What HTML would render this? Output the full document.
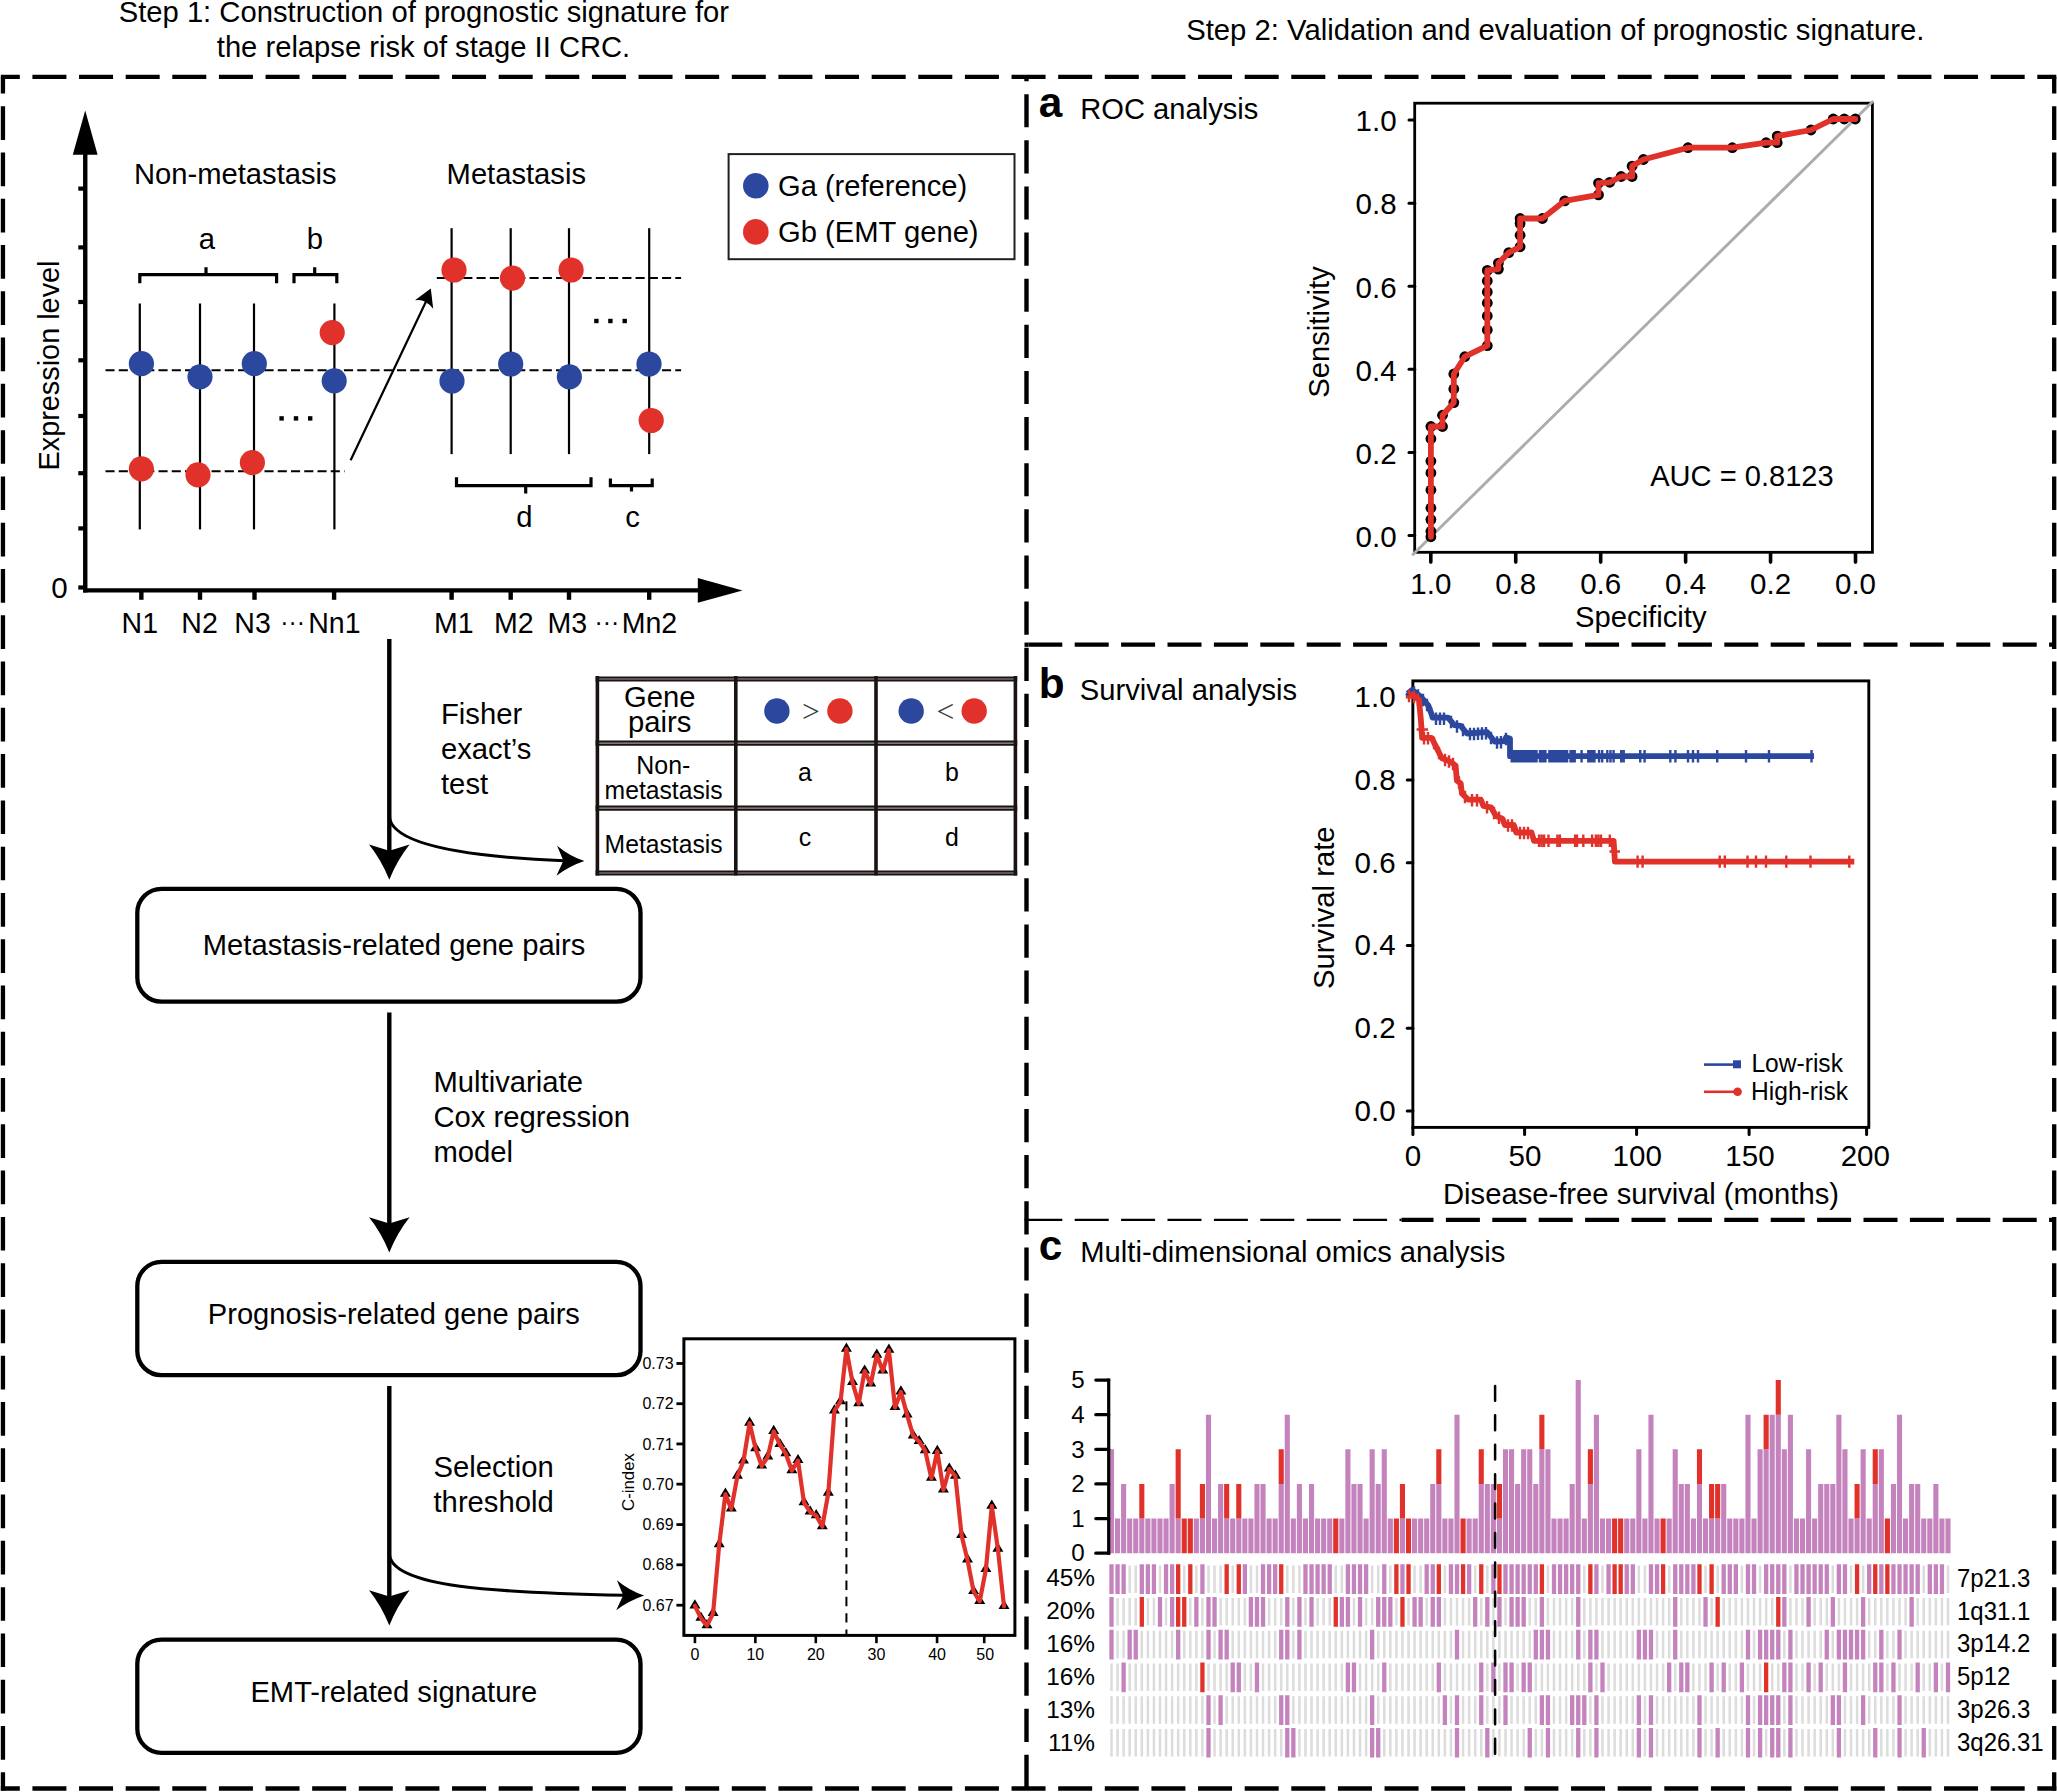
<!DOCTYPE html>
<html lang="en">
<head>
<meta charset="utf-8">
<title>EMT-related prognostic signature workflow</title>
<style>
html,body{margin:0;padding:0;background:#fff;}
svg{display:block;}
text{font-family:"Liberation Sans",Arial,Helvetica,sans-serif;fill:#000;}
</style>
</head>
<body>
<svg width="2057" height="1792" viewBox="0 0 2057 1792">
<rect x="0" y="0" width="2057" height="1792" fill="#fff"/>
<line x1="0.85" y1="76.80" x2="2056.30" y2="76.80" stroke="#000" stroke-width="4.3" stroke-dasharray="34 12.625" stroke-dashoffset="15.049999999999999"/>
<line x1="0.85" y1="1788.50" x2="2056.30" y2="1788.50" stroke="#000" stroke-width="4.3" stroke-dasharray="34 12.625" stroke-dashoffset="15.049999999999999"/>
<line x1="2.95" y1="76.80" x2="2.95" y2="1790.60" stroke="#000" stroke-width="4.3" stroke-dasharray="33.7 12.58" stroke-dashoffset="16.900000000000006"/>
<line x1="2054.20" y1="76.80" x2="2054.20" y2="1790.60" stroke="#000" stroke-width="4.3" stroke-dasharray="33.7 12.58" stroke-dashoffset="16.900000000000006"/>
<line x1="1026.50" y1="76.80" x2="1026.50" y2="1788.50" stroke="#000" stroke-width="4.4" stroke-dasharray="33.2 12.93" stroke-dashoffset="28.8"/>
<line x1="1024.50" y1="644.70" x2="1028.30" y2="644.70" stroke="#000" stroke-width="4.3"/>
<line x1="1028.30" y1="644.70" x2="2054.20" y2="644.70" stroke="#000" stroke-width="4.3" stroke-dasharray="34 12.4" stroke-dashoffset="0"/>
<line x1="1024.50" y1="1219.80" x2="1028.30" y2="1219.80" stroke="#000" stroke-width="2.2"/>
<line x1="1028.30" y1="1219.80" x2="1401.50" y2="1219.80" stroke="#000" stroke-width="2.2" stroke-dasharray="34 12.4" stroke-dashoffset="0"/>
<line x1="1401.50" y1="1219.80" x2="2054.20" y2="1219.80" stroke="#000" stroke-width="4.3" stroke-dasharray="34 12.4" stroke-dashoffset="2.000000000000057"/>
<text x="118.70" y="22.40" font-size="29.72" textLength="610.40" lengthAdjust="spacingAndGlyphs">Step 1: Construction of prognostic signature for</text>
<text x="216.80" y="56.90" font-size="29.72" textLength="413.40" lengthAdjust="spacingAndGlyphs">the relapse risk of stage II CRC.</text>
<text x="1186.20" y="39.80" font-size="29.72" textLength="738.20" lengthAdjust="spacingAndGlyphs">Step 2: Validation and evaluation of prognostic signature.</text>
<line x1="85.25" y1="150.00" x2="85.25" y2="592.60" stroke="#000" stroke-width="4.4"/>
<path d="M85.2,110.4 L72.8,154.7 L97.6,154.7 Z" fill="#000"/>
<line x1="83.10" y1="590.40" x2="700.00" y2="590.40" stroke="#000" stroke-width="4.4"/>
<path d="M742.5,590.4 L697.8,578 L697.8,602.8 Z" fill="#000"/>
<line x1="78.30" y1="188.60" x2="85.25" y2="188.60" stroke="#000" stroke-width="4.2"/>
<line x1="78.30" y1="247.40" x2="85.25" y2="247.40" stroke="#000" stroke-width="4.2"/>
<line x1="78.30" y1="302.00" x2="85.25" y2="302.00" stroke="#000" stroke-width="4.2"/>
<line x1="78.30" y1="360.30" x2="85.25" y2="360.30" stroke="#000" stroke-width="4.2"/>
<line x1="78.30" y1="416.00" x2="85.25" y2="416.00" stroke="#000" stroke-width="4.2"/>
<line x1="78.30" y1="473.20" x2="85.25" y2="473.20" stroke="#000" stroke-width="4.2"/>
<line x1="78.30" y1="528.40" x2="85.25" y2="528.40" stroke="#000" stroke-width="4.2"/>
<line x1="78.30" y1="587.50" x2="85.25" y2="587.50" stroke="#000" stroke-width="4.2"/>
<line x1="141.35" y1="590.40" x2="141.35" y2="599.80" stroke="#000" stroke-width="4.4"/>
<line x1="200.00" y1="590.40" x2="200.00" y2="599.80" stroke="#000" stroke-width="4.4"/>
<line x1="254.50" y1="590.40" x2="254.50" y2="599.80" stroke="#000" stroke-width="4.4"/>
<line x1="334.10" y1="590.40" x2="334.10" y2="599.80" stroke="#000" stroke-width="4.4"/>
<line x1="451.60" y1="590.40" x2="451.60" y2="599.80" stroke="#000" stroke-width="4.4"/>
<line x1="510.70" y1="590.40" x2="510.70" y2="599.80" stroke="#000" stroke-width="4.4"/>
<line x1="569.00" y1="590.40" x2="569.00" y2="599.80" stroke="#000" stroke-width="4.4"/>
<line x1="649.20" y1="590.40" x2="649.20" y2="599.80" stroke="#000" stroke-width="4.4"/>
<line x1="139.80" y1="303.50" x2="139.80" y2="529.40" stroke="#000" stroke-width="2.2"/>
<line x1="200.00" y1="303.50" x2="200.00" y2="529.40" stroke="#000" stroke-width="2.2"/>
<line x1="254.00" y1="303.50" x2="254.00" y2="529.40" stroke="#000" stroke-width="2.2"/>
<line x1="334.40" y1="303.50" x2="334.40" y2="529.40" stroke="#000" stroke-width="2.2"/>
<line x1="451.60" y1="228.20" x2="451.60" y2="454.10" stroke="#000" stroke-width="2.2"/>
<line x1="510.70" y1="228.20" x2="510.70" y2="454.10" stroke="#000" stroke-width="2.2"/>
<line x1="569.00" y1="228.20" x2="569.00" y2="454.10" stroke="#000" stroke-width="2.2"/>
<line x1="649.20" y1="228.20" x2="649.20" y2="454.10" stroke="#000" stroke-width="2.2"/>
<line x1="105.50" y1="370.30" x2="681.10" y2="370.30" stroke="#000" stroke-width="2.0" stroke-dasharray="9.1 4.15"/>
<line x1="105.50" y1="471.20" x2="344.50" y2="471.20" stroke="#000" stroke-width="2.0" stroke-dasharray="9.1 4.15"/>
<line x1="436.80" y1="278.10" x2="681.10" y2="278.10" stroke="#000" stroke-width="2.0" stroke-dasharray="9.1 4.15"/>
<circle cx="141.40" cy="363.70" r="12.6" fill="#2b479e"/>
<circle cx="200.00" cy="376.80" r="12.6" fill="#2b479e"/>
<circle cx="254.30" cy="363.70" r="12.6" fill="#2b479e"/>
<circle cx="334.20" cy="380.80" r="12.6" fill="#2b479e"/>
<circle cx="452.00" cy="381.00" r="12.6" fill="#2b479e"/>
<circle cx="510.70" cy="364.00" r="12.6" fill="#2b479e"/>
<circle cx="569.40" cy="376.80" r="12.6" fill="#2b479e"/>
<circle cx="649.00" cy="364.00" r="12.6" fill="#2b479e"/>
<circle cx="332.20" cy="332.60" r="12.6" fill="#e0312a"/>
<circle cx="141.40" cy="468.80" r="12.6" fill="#e0312a"/>
<circle cx="198.00" cy="474.80" r="12.6" fill="#e0312a"/>
<circle cx="252.40" cy="462.60" r="12.6" fill="#e0312a"/>
<circle cx="454.00" cy="270.00" r="12.6" fill="#e0312a"/>
<circle cx="512.50" cy="278.10" r="12.6" fill="#e0312a"/>
<circle cx="571.10" cy="270.00" r="12.6" fill="#e0312a"/>
<circle cx="651.20" cy="420.50" r="12.6" fill="#e0312a"/>
<path d="M139.8,283.2 V274.7 H276.6 V283.2 M206,274.7 V267.3" fill="none" stroke="#000" stroke-width="3.2"/>
<path d="M294,283.2 V274.7 H336.8 V283.2 M314.7,274.7 V267.3" fill="none" stroke="#000" stroke-width="3.2"/>
<path d="M456.5,477.2 V485.6 H591 V477.2 M525.7,485.6 V493.4" fill="none" stroke="#000" stroke-width="3.2"/>
<path d="M610.4,478.5 V485.6 H652.2 V478.5 M631.5,485.6 V491.5" fill="none" stroke="#000" stroke-width="3.2"/>
<rect x="279.40" y="416.20" width="4.40" height="4.40" fill="#000"/>
<rect x="293.80" y="416.20" width="4.40" height="4.40" fill="#000"/>
<rect x="308.00" y="416.20" width="4.40" height="4.40" fill="#000"/>
<rect x="594.20" y="318.80" width="4.40" height="4.40" fill="#000"/>
<rect x="608.20" y="318.80" width="4.40" height="4.40" fill="#000"/>
<rect x="622.50" y="318.80" width="4.40" height="4.40" fill="#000"/>
<line x1="350.60" y1="460.20" x2="426.50" y2="300.50" stroke="#000" stroke-width="2.2"/>
<path d="M430.8,288.5 L415,300.2 Q421.5,299.3 425.2,301.8 Q429.6,304.3 433.2,308.7 Z" fill="#000"/>
<text x="134.00" y="183.80" font-size="29.72" textLength="202.60" lengthAdjust="spacingAndGlyphs">Non-metastasis</text>
<text x="446.60" y="183.80" font-size="29.72" textLength="139.40" lengthAdjust="spacingAndGlyphs">Metastasis</text>
<text x="207.00" y="248.80" font-size="29.72" text-anchor="middle" textLength="16.26" lengthAdjust="spacingAndGlyphs">a</text>
<text x="315.00" y="248.80" font-size="29.72" text-anchor="middle" textLength="16.26" lengthAdjust="spacingAndGlyphs">b</text>
<text x="524.50" y="527.30" font-size="29.72" text-anchor="middle" textLength="16.26" lengthAdjust="spacingAndGlyphs">d</text>
<text x="632.50" y="527.30" font-size="29.72" text-anchor="middle" textLength="14.62" lengthAdjust="spacingAndGlyphs">c</text>
<text x="58.60" y="365.50" font-size="29.72" text-anchor="middle" textLength="210.00" lengthAdjust="spacingAndGlyphs" transform="rotate(-90 58.60 365.50)">Expression level</text>
<text x="59.50" y="597.70" font-size="29.30" text-anchor="middle" textLength="16.43" lengthAdjust="spacingAndGlyphs">0</text>
<text x="139.80" y="632.60" font-size="29.01" text-anchor="middle" textLength="36.47" lengthAdjust="spacingAndGlyphs">N1</text>
<text x="199.60" y="632.60" font-size="29.01" text-anchor="middle" textLength="36.47" lengthAdjust="spacingAndGlyphs">N2</text>
<text x="252.60" y="632.60" font-size="29.01" text-anchor="middle" textLength="36.47" lengthAdjust="spacingAndGlyphs">N3</text>
<text x="334.40" y="632.60" font-size="29.01" text-anchor="middle" textLength="52.33" lengthAdjust="spacingAndGlyphs">Nn1</text>
<text x="453.90" y="632.60" font-size="29.01" text-anchor="middle" textLength="39.63" lengthAdjust="spacingAndGlyphs">M1</text>
<text x="513.80" y="632.60" font-size="29.01" text-anchor="middle" textLength="39.63" lengthAdjust="spacingAndGlyphs">M2</text>
<text x="567.20" y="632.60" font-size="29.01" text-anchor="middle" textLength="39.63" lengthAdjust="spacingAndGlyphs">M3</text>
<text x="649.50" y="632.60" font-size="29.01" text-anchor="middle" textLength="55.49" lengthAdjust="spacingAndGlyphs">Mn2</text>
<text x="280.30" y="631.40" font-size="25.11" textLength="24.67" lengthAdjust="spacingAndGlyphs">···</text>
<text x="594.50" y="631.40" font-size="25.11" textLength="24.67" lengthAdjust="spacingAndGlyphs">···</text>
<rect x="728.60" y="154.10" width="285.90" height="105.10" fill="none" stroke="#231f20" stroke-width="2"/>
<circle cx="755.80" cy="185.80" r="12.8" fill="#2b479e"/>
<circle cx="755.80" cy="231.90" r="12.8" fill="#e0312a"/>
<text x="778.00" y="195.80" font-size="29.72" textLength="189.20" lengthAdjust="spacingAndGlyphs">Ga (reference)</text>
<text x="778.00" y="242.30" font-size="29.72" textLength="200.60" lengthAdjust="spacingAndGlyphs">Gb (EMT gene)</text>
<line x1="389.30" y1="639.00" x2="389.30" y2="854.80" stroke="#000" stroke-width="4.4"/>
<path d="M389.3,879.8 Q381.3,859.8 369.0,844.5 L389.3,850.8 L409.6,844.5 Q397.3,859.8 389.3,879.8 Z" fill="#000"/>
<path d="M389.3,815.2 C389.3,850.2 499.3,858.1 564.4,860.8000000000001" fill="none" stroke="#000" stroke-width="3.1"/>
<path d="M584.4,861.1 Q569.4,856.1 557.1,845.8000000000001 L563.4,860.8000000000001 L556.4,875.8000000000001 Q569.4,866.1 584.4,861.1 Z" fill="#000"/>
<line x1="389.30" y1="1012.50" x2="389.30" y2="1227.50" stroke="#000" stroke-width="4.4"/>
<path d="M389.3,1252.5 Q381.3,1232.5 369.0,1217.2 L389.3,1223.5 L409.6,1217.2 Q397.3,1232.5 389.3,1252.5 Z" fill="#000"/>
<line x1="389.30" y1="1386.00" x2="389.30" y2="1600.60" stroke="#000" stroke-width="4.4"/>
<path d="M389.3,1625.6 Q381.3,1605.6 369.0,1590.3 L389.3,1596.6 L409.6,1590.3 Q397.3,1605.6 389.3,1625.6 Z" fill="#000"/>
<path d="M389.3,1553 C389.3,1588 499.3,1592.6 624.2,1595.3" fill="none" stroke="#000" stroke-width="3.1"/>
<path d="M644.2,1595.6 Q629.2,1590.6 616.9000000000001,1580.3 L623.2,1595.3 L616.2,1610.3 Q629.2,1600.6 644.2,1595.6 Z" fill="#000"/>
<rect x="137.30" y="888.80" width="503.20" height="112.90" fill="none" stroke="#000" stroke-width="4.3" rx="24.2"/>
<rect x="137.30" y="1261.95" width="503.20" height="113.25" fill="none" stroke="#000" stroke-width="4.3" rx="24.2"/>
<rect x="137.30" y="1639.60" width="503.20" height="113.30" fill="none" stroke="#000" stroke-width="4.3" rx="24.2"/>
<text x="202.80" y="954.50" font-size="29.72" textLength="382.60" lengthAdjust="spacingAndGlyphs">Metastasis-related gene pairs</text>
<text x="207.80" y="1323.50" font-size="29.72" textLength="372.10" lengthAdjust="spacingAndGlyphs">Prognosis-related gene pairs</text>
<text x="250.40" y="1701.50" font-size="29.72" textLength="286.90" lengthAdjust="spacingAndGlyphs">EMT-related signature</text>
<text x="441.00" y="724.00" font-size="29.72" textLength="81.22" lengthAdjust="spacingAndGlyphs">Fisher</text>
<text x="441.00" y="759.00" font-size="29.72" textLength="90.45" lengthAdjust="spacingAndGlyphs">exact’s</text>
<text x="441.00" y="794.00" font-size="29.72" textLength="47.12" lengthAdjust="spacingAndGlyphs">test</text>
<text x="433.50" y="1091.50" font-size="29.72" textLength="149.46" lengthAdjust="spacingAndGlyphs">Multivariate</text>
<text x="433.50" y="1126.50" font-size="29.72" textLength="196.59" lengthAdjust="spacingAndGlyphs">Cox regression</text>
<text x="433.50" y="1161.50" font-size="29.72" textLength="79.62" lengthAdjust="spacingAndGlyphs">model</text>
<text x="433.50" y="1476.50" font-size="29.72" textLength="120.25" lengthAdjust="spacingAndGlyphs">Selection</text>
<text x="433.50" y="1511.50" font-size="29.72" textLength="120.25" lengthAdjust="spacingAndGlyphs">threshold</text>
<line x1="595.60" y1="679.00" x2="1017.20" y2="679.00" stroke="#1a1311" stroke-width="5.2"/>
<line x1="597.40" y1="679.00" x2="1015.40" y2="679.00" stroke="#9a9a9a" stroke-width="1.2"/>
<line x1="595.60" y1="743.10" x2="1017.20" y2="743.10" stroke="#1a1311" stroke-width="5.2"/>
<line x1="597.40" y1="743.10" x2="1015.40" y2="743.10" stroke="#9a9a9a" stroke-width="1.2"/>
<line x1="595.60" y1="808.10" x2="1017.20" y2="808.10" stroke="#1a1311" stroke-width="5.2"/>
<line x1="597.40" y1="808.10" x2="1015.40" y2="808.10" stroke="#9a9a9a" stroke-width="1.2"/>
<line x1="595.60" y1="873.00" x2="1017.20" y2="873.00" stroke="#1a1311" stroke-width="5.2"/>
<line x1="597.40" y1="873.00" x2="1015.40" y2="873.00" stroke="#9a9a9a" stroke-width="1.2"/>
<line x1="597.40" y1="676.00" x2="597.40" y2="875.40" stroke="#1a1311" stroke-width="3.6"/>
<line x1="735.80" y1="676.00" x2="735.80" y2="875.40" stroke="#1a1311" stroke-width="3.6"/>
<line x1="876.00" y1="676.00" x2="876.00" y2="875.40" stroke="#1a1311" stroke-width="3.6"/>
<line x1="1015.40" y1="676.00" x2="1015.40" y2="875.40" stroke="#1a1311" stroke-width="3.6"/>
<text x="659.80" y="707.30" font-size="29.72" text-anchor="middle" textLength="71.51" lengthAdjust="spacingAndGlyphs">Gene</text>
<text x="659.80" y="731.80" font-size="29.72" text-anchor="middle" textLength="63.36" lengthAdjust="spacingAndGlyphs">pairs</text>
<text x="663.30" y="773.80" font-size="25.32" text-anchor="middle" textLength="53.97" lengthAdjust="spacingAndGlyphs">Non-</text>
<text x="663.60" y="799.00" font-size="25.32" text-anchor="middle" textLength="118.00" lengthAdjust="spacingAndGlyphs">metastasis</text>
<text x="663.60" y="852.50" font-size="25.32" text-anchor="middle" textLength="118.00" lengthAdjust="spacingAndGlyphs">Metastasis</text>
<text x="804.90" y="781.40" font-size="25.32" text-anchor="middle" textLength="13.85" lengthAdjust="spacingAndGlyphs">a</text>
<text x="951.90" y="781.40" font-size="25.32" text-anchor="middle" textLength="13.85" lengthAdjust="spacingAndGlyphs">b</text>
<text x="804.90" y="845.50" font-size="25.32" text-anchor="middle" textLength="12.45" lengthAdjust="spacingAndGlyphs">c</text>
<text x="951.90" y="845.50" font-size="25.32" text-anchor="middle" textLength="13.85" lengthAdjust="spacingAndGlyphs">d</text>
<circle cx="776.90" cy="711.00" r="12.7" fill="#2b479e"/>
<circle cx="839.90" cy="711.00" r="12.7" fill="#e0312a"/>
<circle cx="911.20" cy="711.00" r="12.7" fill="#2b479e"/>
<circle cx="974.20" cy="711.00" r="12.7" fill="#e0312a"/>
<text x="810.90" y="721.80" font-size="31.50" text-anchor="middle" style="fill:#3c3c3c;font-family:Liberation Serif,serif;">&gt;</text>
<text x="945.40" y="721.80" font-size="31.50" text-anchor="middle" style="fill:#3c3c3c;font-family:Liberation Serif,serif;">&lt;</text>
<rect x="683.90" y="1338.80" width="331.00" height="296.60" fill="none" stroke="#000" stroke-width="3"/>
<line x1="676.40" y1="1363.49" x2="683.90" y2="1363.49" stroke="#000" stroke-width="2.8"/>
<line x1="676.40" y1="1403.71" x2="683.90" y2="1403.71" stroke="#000" stroke-width="2.8"/>
<line x1="676.40" y1="1443.93" x2="683.90" y2="1443.93" stroke="#000" stroke-width="2.8"/>
<line x1="676.40" y1="1484.15" x2="683.90" y2="1484.15" stroke="#000" stroke-width="2.8"/>
<line x1="676.40" y1="1524.57" x2="683.90" y2="1524.57" stroke="#000" stroke-width="2.8"/>
<line x1="676.40" y1="1564.79" x2="683.90" y2="1564.79" stroke="#000" stroke-width="2.8"/>
<line x1="676.40" y1="1605.22" x2="683.90" y2="1605.22" stroke="#000" stroke-width="2.8"/>
<line x1="694.93" y1="1635.40" x2="694.93" y2="1643.20" stroke="#000" stroke-width="2.6"/>
<line x1="755.37" y1="1635.40" x2="755.37" y2="1643.20" stroke="#000" stroke-width="2.6"/>
<line x1="815.80" y1="1635.40" x2="815.80" y2="1643.20" stroke="#000" stroke-width="2.6"/>
<line x1="876.44" y1="1635.40" x2="876.44" y2="1643.20" stroke="#000" stroke-width="2.6"/>
<line x1="937.07" y1="1635.40" x2="937.07" y2="1643.20" stroke="#000" stroke-width="2.6"/>
<line x1="984.23" y1="1635.40" x2="984.23" y2="1643.20" stroke="#000" stroke-width="2.6"/>
<line x1="846.42" y1="1401.26" x2="846.42" y2="1635.00" stroke="#000" stroke-width="2.0" stroke-dasharray="9.4 6.9"/>
<path d="M694.9,1599.2 l5.5,9.2 h-11 Z M700.9,1611.5 l5.5,9.2 h-11 Z M707.0,1619.0 l5.5,9.2 h-11 Z M713.1,1606.8 l5.5,9.2 h-11 Z M719.2,1538.0 l5.5,9.2 h-11 Z M725.4,1487.6 l5.5,9.2 h-11 Z M731.3,1502.3 l5.5,9.2 h-11 Z M737.4,1469.6 l5.5,9.2 h-11 Z M743.5,1454.3 l5.5,9.2 h-11 Z M749.6,1416.5 l5.5,9.2 h-11 Z M755.6,1442.0 l5.5,9.2 h-11 Z M761.7,1459.4 l5.5,9.2 h-11 Z M767.8,1450.2 l5.5,9.2 h-11 Z M773.7,1424.7 l5.5,9.2 h-11 Z M779.9,1437.9 l5.5,9.2 h-11 Z M785.8,1447.1 l5.5,9.2 h-11 Z M791.9,1464.1 l5.5,9.2 h-11 Z M798.0,1453.9 l5.5,9.2 h-11 Z M804.0,1496.1 l5.5,9.2 h-11 Z M810.1,1505.3 l5.5,9.2 h-11 Z M816.2,1509.0 l5.5,9.2 h-11 Z M822.3,1520.0 l5.5,9.2 h-11 Z M828.3,1486.5 l5.5,9.2 h-11 Z M834.4,1404.3 l5.5,9.2 h-11 Z M840.5,1395.1 l5.5,9.2 h-11 Z M846.4,1342.6 l5.5,9.2 h-11 Z M852.5,1375.7 l5.5,9.2 h-11 Z M858.7,1397.1 l5.5,9.2 h-11 Z M864.6,1364.4 l5.5,9.2 h-11 Z M870.7,1377.3 l5.5,9.2 h-11 Z M876.8,1348.5 l5.5,9.2 h-11 Z M882.8,1364.4 l5.5,9.2 h-11 Z M888.9,1343.6 l5.5,9.2 h-11 Z M895.0,1400.8 l5.5,9.2 h-11 Z M900.9,1385.3 l5.5,9.2 h-11 Z M907.1,1408.3 l5.5,9.2 h-11 Z M913.2,1429.2 l5.5,9.2 h-11 Z M919.1,1434.9 l5.5,9.2 h-11 Z M925.2,1444.1 l5.5,9.2 h-11 Z M931.4,1471.6 l5.5,9.2 h-11 Z M937.3,1444.7 l5.5,9.2 h-11 Z M943.4,1483.3 l5.5,9.2 h-11 Z M949.3,1462.4 l5.5,9.2 h-11 Z M955.4,1469.6 l5.5,9.2 h-11 Z M961.6,1528.8 l5.5,9.2 h-11 Z M967.5,1553.3 l5.5,9.2 h-11 Z M973.6,1584.9 l5.5,9.2 h-11 Z M979.7,1594.7 l5.5,9.2 h-11 Z M985.9,1562.9 l5.5,9.2 h-11 Z M991.8,1499.6 l5.5,9.2 h-11 Z M997.9,1542.5 l5.5,9.2 h-11 Z M1004.0,1599.8 l5.5,9.2 h-11 Z " fill="#000"/>
<path d="M694.9,1605.8 L700.9,1618.1 L707.0,1625.6 L713.1,1613.4 L719.2,1544.6 L725.4,1494.2 L731.3,1508.9 L737.4,1476.2 L743.5,1460.9 L749.6,1423.1 L755.6,1448.6 L761.7,1466.0 L767.8,1456.8 L773.7,1431.3 L779.9,1444.5 L785.8,1453.7 L791.9,1470.7 L798.0,1460.5 L804.0,1502.7 L810.1,1511.9 L816.2,1515.6 L822.3,1526.6 L828.3,1493.1 L834.4,1410.9 L840.5,1401.7 L846.4,1349.2 L852.5,1382.3 L858.7,1403.7 L864.6,1371.0 L870.7,1383.9 L876.8,1355.1 L882.8,1371.0 L888.9,1350.2 L895.0,1407.4 L900.9,1391.9 L907.1,1414.9 L913.2,1435.8 L919.1,1441.5 L925.2,1450.7 L931.4,1478.2 L937.3,1451.3 L943.4,1489.9 L949.3,1469.0 L955.4,1476.2 L961.6,1535.4 L967.5,1559.9 L973.6,1591.5 L979.7,1601.3 L985.9,1569.5 L991.8,1506.2 L997.9,1549.1 L1004.0,1606.4" fill="none" stroke="#e0312a" stroke-width="4.2" stroke-linejoin="round" stroke-linecap="round"/>
<text x="673.60" y="1369.19" font-size="16.30" text-anchor="end" textLength="31.19" lengthAdjust="spacingAndGlyphs">0.73</text>
<text x="673.60" y="1409.41" font-size="16.30" text-anchor="end" textLength="31.19" lengthAdjust="spacingAndGlyphs">0.72</text>
<text x="673.60" y="1449.63" font-size="16.30" text-anchor="end" textLength="31.19" lengthAdjust="spacingAndGlyphs">0.71</text>
<text x="673.60" y="1489.85" font-size="16.30" text-anchor="end" textLength="31.19" lengthAdjust="spacingAndGlyphs">0.70</text>
<text x="673.60" y="1530.27" font-size="16.30" text-anchor="end" textLength="31.19" lengthAdjust="spacingAndGlyphs">0.69</text>
<text x="673.60" y="1570.49" font-size="16.30" text-anchor="end" textLength="31.19" lengthAdjust="spacingAndGlyphs">0.68</text>
<text x="673.60" y="1610.92" font-size="16.30" text-anchor="end" textLength="31.19" lengthAdjust="spacingAndGlyphs">0.67</text>
<text x="694.93" y="1660.00" font-size="16.30" text-anchor="middle" textLength="8.91" lengthAdjust="spacingAndGlyphs">0</text>
<text x="755.37" y="1660.00" font-size="16.30" text-anchor="middle" textLength="17.83" lengthAdjust="spacingAndGlyphs">10</text>
<text x="815.80" y="1660.00" font-size="16.30" text-anchor="middle" textLength="17.83" lengthAdjust="spacingAndGlyphs">20</text>
<text x="876.44" y="1660.00" font-size="16.30" text-anchor="middle" textLength="17.83" lengthAdjust="spacingAndGlyphs">30</text>
<text x="937.07" y="1660.00" font-size="16.30" text-anchor="middle" textLength="17.83" lengthAdjust="spacingAndGlyphs">40</text>
<text x="985.26" y="1660.00" font-size="16.30" text-anchor="middle" textLength="17.83" lengthAdjust="spacingAndGlyphs">50</text>
<text x="634.40" y="1482.00" font-size="16.30" text-anchor="middle" textLength="58.00" lengthAdjust="spacingAndGlyphs" transform="rotate(-90 634.40 1482.00)">C-index</text>
<text x="1038.80" y="117.10" font-size="41.58" textLength="23.55" lengthAdjust="spacingAndGlyphs" font-weight="bold">a</text>
<text x="1080.30" y="118.50" font-size="29.72" textLength="178.00" lengthAdjust="spacingAndGlyphs">ROC analysis</text>
<rect x="1414.70" y="103.20" width="457.70" height="449.10" fill="none" stroke="#000" stroke-width="2.8"/>
<line x1="1412.20" y1="555.20" x2="1873.30" y2="101.00" stroke="#acacac" stroke-width="2.9"/>
<line x1="1409.00" y1="535.50" x2="1414.70" y2="535.50" stroke="#000" stroke-width="3.0" stroke-linecap="round"/>
<line x1="1855.50" y1="553.30" x2="1855.50" y2="562.10" stroke="#000" stroke-width="3.6" stroke-linecap="round"/>
<text x="1396.60" y="546.80" font-size="29.30" text-anchor="end" textLength="41.06" lengthAdjust="spacingAndGlyphs">0.0</text>
<text x="1855.50" y="593.50" font-size="29.30" text-anchor="middle" textLength="41.06" lengthAdjust="spacingAndGlyphs">0.0</text>
<line x1="1409.00" y1="452.42" x2="1414.70" y2="452.42" stroke="#000" stroke-width="3.0" stroke-linecap="round"/>
<line x1="1770.56" y1="553.30" x2="1770.56" y2="562.10" stroke="#000" stroke-width="3.6" stroke-linecap="round"/>
<text x="1396.60" y="463.72" font-size="29.30" text-anchor="end" textLength="41.06" lengthAdjust="spacingAndGlyphs">0.2</text>
<text x="1770.56" y="593.50" font-size="29.30" text-anchor="middle" textLength="41.06" lengthAdjust="spacingAndGlyphs">0.2</text>
<line x1="1409.00" y1="369.34" x2="1414.70" y2="369.34" stroke="#000" stroke-width="3.0" stroke-linecap="round"/>
<line x1="1685.62" y1="553.30" x2="1685.62" y2="562.10" stroke="#000" stroke-width="3.6" stroke-linecap="round"/>
<text x="1396.60" y="380.64" font-size="29.30" text-anchor="end" textLength="41.06" lengthAdjust="spacingAndGlyphs">0.4</text>
<text x="1685.62" y="593.50" font-size="29.30" text-anchor="middle" textLength="41.06" lengthAdjust="spacingAndGlyphs">0.4</text>
<line x1="1409.00" y1="286.26" x2="1414.70" y2="286.26" stroke="#000" stroke-width="3.0" stroke-linecap="round"/>
<line x1="1600.68" y1="553.30" x2="1600.68" y2="562.10" stroke="#000" stroke-width="3.6" stroke-linecap="round"/>
<text x="1396.60" y="297.56" font-size="29.30" text-anchor="end" textLength="41.06" lengthAdjust="spacingAndGlyphs">0.6</text>
<text x="1600.68" y="593.50" font-size="29.30" text-anchor="middle" textLength="41.06" lengthAdjust="spacingAndGlyphs">0.6</text>
<line x1="1409.00" y1="203.18" x2="1414.70" y2="203.18" stroke="#000" stroke-width="3.0" stroke-linecap="round"/>
<line x1="1515.74" y1="553.30" x2="1515.74" y2="562.10" stroke="#000" stroke-width="3.6" stroke-linecap="round"/>
<text x="1396.60" y="214.48" font-size="29.30" text-anchor="end" textLength="41.06" lengthAdjust="spacingAndGlyphs">0.8</text>
<text x="1515.74" y="593.50" font-size="29.30" text-anchor="middle" textLength="41.06" lengthAdjust="spacingAndGlyphs">0.8</text>
<line x1="1409.00" y1="120.10" x2="1414.70" y2="120.10" stroke="#000" stroke-width="3.0" stroke-linecap="round"/>
<line x1="1430.80" y1="553.30" x2="1430.80" y2="562.10" stroke="#000" stroke-width="3.6" stroke-linecap="round"/>
<text x="1396.60" y="131.40" font-size="29.30" text-anchor="end" textLength="41.06" lengthAdjust="spacingAndGlyphs">1.0</text>
<text x="1430.80" y="593.50" font-size="29.30" text-anchor="middle" textLength="41.06" lengthAdjust="spacingAndGlyphs">1.0</text>
<circle cx="1430.90" cy="536.80" r="5.4" fill="#000"/>
<circle cx="1430.90" cy="426.50" r="5.4" fill="#000"/>
<circle cx="1442.50" cy="426.50" r="5.4" fill="#000"/>
<circle cx="1442.50" cy="415.20" r="5.4" fill="#000"/>
<circle cx="1453.80" cy="402.60" r="5.4" fill="#000"/>
<circle cx="1453.80" cy="374.00" r="5.4" fill="#000"/>
<circle cx="1464.80" cy="356.70" r="5.4" fill="#000"/>
<circle cx="1487.30" cy="345.70" r="5.4" fill="#000"/>
<circle cx="1487.30" cy="270.40" r="5.4" fill="#000"/>
<circle cx="1498.40" cy="269.10" r="5.4" fill="#000"/>
<circle cx="1498.40" cy="263.10" r="5.4" fill="#000"/>
<circle cx="1508.80" cy="252.60" r="5.4" fill="#000"/>
<circle cx="1520.10" cy="246.80" r="5.4" fill="#000"/>
<circle cx="1520.10" cy="218.50" r="5.4" fill="#000"/>
<circle cx="1542.40" cy="218.50" r="5.4" fill="#000"/>
<circle cx="1564.70" cy="200.90" r="5.4" fill="#000"/>
<circle cx="1598.50" cy="194.90" r="5.4" fill="#000"/>
<circle cx="1598.50" cy="183.10" r="5.4" fill="#000"/>
<circle cx="1609.80" cy="182.30" r="5.4" fill="#000"/>
<circle cx="1621.10" cy="176.50" r="5.4" fill="#000"/>
<circle cx="1632.10" cy="176.50" r="5.4" fill="#000"/>
<circle cx="1632.10" cy="166.10" r="5.4" fill="#000"/>
<circle cx="1643.40" cy="159.50" r="5.4" fill="#000"/>
<circle cx="1688.00" cy="147.70" r="5.4" fill="#000"/>
<circle cx="1732.30" cy="147.70" r="5.4" fill="#000"/>
<circle cx="1766.10" cy="142.70" r="5.4" fill="#000"/>
<circle cx="1777.20" cy="142.70" r="5.4" fill="#000"/>
<circle cx="1777.20" cy="136.10" r="5.4" fill="#000"/>
<circle cx="1811.00" cy="130.00" r="5.4" fill="#000"/>
<circle cx="1833.20" cy="119.00" r="5.4" fill="#000"/>
<circle cx="1844.30" cy="119.00" r="5.4" fill="#000"/>
<circle cx="1855.30" cy="119.00" r="5.4" fill="#000"/>
<circle cx="1430.90" cy="531.20" r="5.4" fill="#000"/>
<circle cx="1430.90" cy="519.60" r="5.4" fill="#000"/>
<circle cx="1430.90" cy="508.00" r="5.4" fill="#000"/>
<circle cx="1430.90" cy="490.00" r="5.4" fill="#000"/>
<circle cx="1430.90" cy="472.90" r="5.4" fill="#000"/>
<circle cx="1430.90" cy="461.10" r="5.4" fill="#000"/>
<circle cx="1430.90" cy="438.80" r="5.4" fill="#000"/>
<circle cx="1453.80" cy="389.00" r="5.4" fill="#000"/>
<circle cx="1487.30" cy="330.00" r="5.4" fill="#000"/>
<circle cx="1487.30" cy="316.00" r="5.4" fill="#000"/>
<circle cx="1487.30" cy="303.00" r="5.4" fill="#000"/>
<circle cx="1487.30" cy="292.00" r="5.4" fill="#000"/>
<circle cx="1487.30" cy="281.00" r="5.4" fill="#000"/>
<circle cx="1520.10" cy="223.60" r="5.4" fill="#000"/>
<circle cx="1520.10" cy="235.20" r="5.4" fill="#000"/>
<path d="M1430.9,536.8 L1430.9,426.5 L1442.5,426.5 L1442.5,415.2 L1453.8,402.6 L1453.8,374.0 L1464.8,356.7 L1487.3,345.7 L1487.3,270.4 L1498.4,269.1 L1498.4,263.1 L1508.8,252.6 L1520.1,246.8 L1520.1,218.5 L1542.4,218.5 L1564.7,200.9 L1598.5,194.9 L1598.5,183.1 L1609.8,182.3 L1621.1,176.5 L1632.1,176.5 L1632.1,166.1 L1643.4,159.5 L1688.0,147.7 L1732.3,147.7 L1766.1,142.7 L1777.2,142.7 L1777.2,136.1 L1811.0,130.0 L1833.2,119.0 L1844.3,119.0 L1855.3,119.0" fill="none" stroke="#e0312a" stroke-width="5.8" stroke-linejoin="round" stroke-linecap="round"/>
<text x="1640.80" y="626.60" font-size="29.72" text-anchor="middle" textLength="131.59" lengthAdjust="spacingAndGlyphs">Specificity</text>
<text x="1328.50" y="332.00" font-size="29.72" text-anchor="middle" textLength="131.59" lengthAdjust="spacingAndGlyphs" transform="rotate(-90 1328.50 332.00)">Sensitivity</text>
<text x="1650.20" y="486.20" font-size="29.72" textLength="183.50" lengthAdjust="spacingAndGlyphs">AUC = 0.8123</text>
<text x="1038.80" y="697.70" font-size="41.58" textLength="25.86" lengthAdjust="spacingAndGlyphs" font-weight="bold">b</text>
<text x="1079.70" y="699.70" font-size="29.72" textLength="217.50" lengthAdjust="spacingAndGlyphs">Survival analysis</text>
<rect x="1412.85" y="680.90" width="455.95" height="446.50" fill="none" stroke="#000" stroke-width="2.9"/>
<line x1="1407.25" y1="1111.10" x2="1412.85" y2="1111.10" stroke="#000" stroke-width="3.0" stroke-linecap="round"/>
<text x="1395.60" y="1121.00" font-size="29.30" text-anchor="end" textLength="41.06" lengthAdjust="spacingAndGlyphs">0.0</text>
<line x1="1407.25" y1="1028.30" x2="1412.85" y2="1028.30" stroke="#000" stroke-width="3.0" stroke-linecap="round"/>
<text x="1395.60" y="1038.20" font-size="29.30" text-anchor="end" textLength="41.06" lengthAdjust="spacingAndGlyphs">0.2</text>
<line x1="1407.25" y1="945.50" x2="1412.85" y2="945.50" stroke="#000" stroke-width="3.0" stroke-linecap="round"/>
<text x="1395.60" y="955.40" font-size="29.30" text-anchor="end" textLength="41.06" lengthAdjust="spacingAndGlyphs">0.4</text>
<line x1="1407.25" y1="862.70" x2="1412.85" y2="862.70" stroke="#000" stroke-width="3.0" stroke-linecap="round"/>
<text x="1395.60" y="872.60" font-size="29.30" text-anchor="end" textLength="41.06" lengthAdjust="spacingAndGlyphs">0.6</text>
<line x1="1407.25" y1="779.90" x2="1412.85" y2="779.90" stroke="#000" stroke-width="3.0" stroke-linecap="round"/>
<text x="1395.60" y="789.80" font-size="29.30" text-anchor="end" textLength="41.06" lengthAdjust="spacingAndGlyphs">0.8</text>
<text x="1395.60" y="707.00" font-size="29.30" text-anchor="end" textLength="41.06" lengthAdjust="spacingAndGlyphs">1.0</text>
<line x1="1412.90" y1="1127.40" x2="1412.90" y2="1134.40" stroke="#000" stroke-width="3.0" stroke-linecap="round"/>
<text x="1412.90" y="1165.90" font-size="29.30" text-anchor="middle" textLength="16.43" lengthAdjust="spacingAndGlyphs">0</text>
<line x1="1524.60" y1="1127.40" x2="1524.60" y2="1134.40" stroke="#000" stroke-width="3.0" stroke-linecap="round"/>
<text x="1525.00" y="1165.90" font-size="29.30" text-anchor="middle" textLength="32.85" lengthAdjust="spacingAndGlyphs">50</text>
<line x1="1636.60" y1="1127.40" x2="1636.60" y2="1134.40" stroke="#000" stroke-width="3.0" stroke-linecap="round"/>
<text x="1637.20" y="1165.90" font-size="29.30" text-anchor="middle" textLength="49.28" lengthAdjust="spacingAndGlyphs">100</text>
<line x1="1749.10" y1="1127.40" x2="1749.10" y2="1134.40" stroke="#000" stroke-width="3.0" stroke-linecap="round"/>
<text x="1750.00" y="1165.90" font-size="29.30" text-anchor="middle" textLength="49.28" lengthAdjust="spacingAndGlyphs">150</text>
<line x1="1866.60" y1="1127.40" x2="1866.60" y2="1134.40" stroke="#000" stroke-width="3.0" stroke-linecap="round"/>
<text x="1865.30" y="1165.90" font-size="29.30" text-anchor="middle" textLength="49.28" lengthAdjust="spacingAndGlyphs">200</text>
<path d="M1407.6,693.6 L1412.0,689.9 L1420.9,696.8 L1428.4,705.7 L1432.9,717.7 L1448.0,717.7 L1454.4,725.2 L1460.7,725.9 L1467.0,733.5 L1487.2,732.2 L1494.8,741.7 L1505.0,741.0 L1506.0,737.5 L1510.0,738.5 L1510.0,756.2 L1814.0,756.2" fill="none" stroke="#2b479e" stroke-width="5.8" stroke-linejoin="round"/>
<path d="M1511.7,750.0 V762.4 M1513.5,750.0 V762.4 M1515.3,750.0 V762.4 M1517.0,750.0 V762.4 M1518.8,750.0 V762.4 M1520.6,750.0 V762.4 M1522.4,750.0 V762.4 M1524.1,750.0 V762.4 M1525.9,750.0 V762.4 M1527.7,750.0 V762.4 M1529.4,750.0 V762.4 M1531.2,750.0 V762.4 M1533.0,750.0 V762.4 M1534.7,750.0 V762.4 M1536.5,750.0 V762.4 M1540.0,750.0 V762.4 M1541.8,750.0 V762.4 M1543.6,750.0 V762.4 M1545.4,750.0 V762.4 M1549.4,750.0 V762.4 M1551.2,750.0 V762.4 M1552.9,750.0 V762.4 M1554.7,750.0 V762.4 M1556.5,750.0 V762.4 M1558.3,750.0 V762.4 M1560.0,750.0 V762.4 M1561.8,750.0 V762.4 M1563.6,750.0 V762.4 M1565.3,750.0 V762.4 M1567.1,750.0 V762.4 M1570.6,750.0 V762.4 M1572.7,750.0 V762.4 M1574.7,750.0 V762.4 M1581.6,750.0 V762.4 M1588.3,750.0 V762.4 M1590.4,750.0 V762.4 M1592.4,750.0 V762.4 M1594.4,750.0 V762.4 M1599.1,750.0 V762.4 M1602.2,750.0 V762.4 M1607.3,750.0 V762.4 M1610.5,750.0 V762.4 M1613.6,750.0 V762.4 M1621.2,750.0 V762.4 M1623.7,750.0 V762.4 M1640.2,750.0 V762.4 M1644.6,750.0 V762.4 M1670.3,750.0 V762.4 M1675.4,750.0 V762.4 M1688.0,750.0 V762.4 M1693.0,750.0 V762.4 M1698.0,750.0 V762.4 M1717.2,750.0 V762.4 M1746.0,750.0 V762.4 M1769.0,750.0 V762.4 M1811.5,750.0 V762.4 M1414.0,686.3 V698.7 M1418.0,689.3 V701.7 M1423.0,693.8 V706.2 M1427.0,698.8 V711.2 M1431.0,706.8 V719.2 M1436.0,712.5 V724.9 M1440.0,712.5 V724.9 M1444.0,712.5 V724.9 M1451.0,715.8 V728.2 M1457.0,720.3 V732.7 M1463.0,723.8 V736.2 M1470.0,727.8 V740.2 M1474.0,727.8 V740.2 M1478.0,727.6 V740.0 M1482.0,727.3 V739.7 M1486.0,727.1 V739.5 M1491.0,731.8 V744.2 M1497.0,736.3 V748.7 M1501.0,736.1 V748.5 M1506.0,732.8 V745.2" fill="none" stroke="#2b479e" stroke-width="2.4"/>
<path d="M1407.6,696.0 L1412.0,694.8 L1419.0,699.8 L1420.9,720.1 L1422.1,737.8 L1431.6,737.8 L1437.9,750.4 L1441.7,758.0 L1450.6,761.8 L1455.6,765.5 L1456.9,780.7 L1460.7,783.3 L1461.9,793.4 L1468.3,799.7 L1480.9,799.7 L1483.4,806.0 L1491.0,807.3 L1496.1,816.1 L1502.4,818.6 L1504.9,825.0 L1513.8,825.0 L1516.3,832.5 L1531.5,832.5 L1534.0,840.8 L1613.6,840.8 L1614.9,861.6 L1854.3,861.6" fill="none" stroke="#e0312a" stroke-width="5.8" stroke-linejoin="round"/>
<path d="M1539.0,834.6 V847.0 M1541.6,834.6 V847.0 M1544.1,834.6 V847.0 M1548.5,834.6 V847.0 M1557.4,834.6 V847.0 M1559.9,834.6 V847.0 M1575.1,834.6 V847.0 M1577.0,834.6 V847.0 M1583.3,834.6 V847.0 M1592.1,834.6 V847.0 M1595.9,834.6 V847.0 M1598.4,834.6 V847.0 M1601.0,834.6 V847.0 M1609.8,834.6 V847.0 M1637.6,855.4 V867.8 M1642.6,855.4 V867.8 M1719.7,855.4 V867.8 M1724.8,855.4 V867.8 M1747.5,855.4 V867.8 M1756.0,855.4 V867.8 M1766.0,855.4 V867.8 M1786.3,855.4 V867.8 M1810.5,855.4 V867.8 M1849.3,855.4 V867.8 M1409.0,689.8 V702.2 M1414.0,690.8 V703.2 M1418.0,693.3 V705.7 M1424.0,732.1 V744.5 M1428.0,732.1 V744.5 M1434.0,736.8 V749.2 M1439.0,746.8 V759.2 M1445.0,753.8 V766.2 M1449.0,755.3 V767.7 M1453.0,757.8 V770.2 M1459.0,776.3 V788.7 M1465.0,790.8 V803.2 M1472.0,794.0 V806.4 M1477.0,794.0 V806.4 M1487.0,801.0 V813.4 M1494.0,806.8 V819.2 M1499.0,811.6 V824.0 M1508.0,819.3 V831.7 M1512.0,819.3 V831.7 M1520.0,826.8 V839.2 M1524.0,826.8 V839.2 M1528.0,826.8 V839.2" fill="none" stroke="#e0312a" stroke-width="2.4"/>
<path d="M1416.6,729.5 H1428.1 M1609.5,851.5 H1620 M1405.8,697.1 H1412" fill="none" stroke="#e0312a" stroke-width="2.6"/>
<circle cx="1407.10" cy="694.40" r="1.6" fill="#2b479e"/>
<line x1="1704.00" y1="1064.60" x2="1736.00" y2="1064.60" stroke="#2b479e" stroke-width="2.6"/>
<rect x="1733.00" y="1060.30" width="8.00" height="8.00" fill="#2b479e"/>
<line x1="1704.00" y1="1091.80" x2="1736.00" y2="1091.80" stroke="#e0312a" stroke-width="2.6"/>
<circle cx="1737.60" cy="1091.80" r="4.3" fill="#e0312a"/>
<text x="1751.40" y="1071.50" font-size="25.01" textLength="91.56" lengthAdjust="spacingAndGlyphs">Low-risk</text>
<text x="1751.00" y="1100.20" font-size="25.01" textLength="97.02" lengthAdjust="spacingAndGlyphs">High-risk</text>
<text x="1641.00" y="1204.20" font-size="29.72" text-anchor="middle" textLength="396.00" lengthAdjust="spacingAndGlyphs">Disease-free survival (months)</text>
<text x="1333.60" y="907.70" font-size="29.72" text-anchor="middle" textLength="162.46" lengthAdjust="spacingAndGlyphs" transform="rotate(-90 1333.60 907.70)">Survival rate</text>
<text x="1038.80" y="1259.70" font-size="41.58" textLength="23.55" lengthAdjust="spacingAndGlyphs" font-weight="bold">c</text>
<text x="1080.30" y="1261.50" font-size="29.72" textLength="425.00" lengthAdjust="spacingAndGlyphs">Multi-dimensional omics analysis</text>
<path d="M1110.25,1663.56 v27.50 h2.5 v-27.50 Z M1110.25,1696.28 v27.50 h2.5 v-27.50 Z M1110.25,1729.00 v27.50 h2.5 v-27.50 Z M1116.31,1598.12 v27.50 h2.5 v-27.50 Z M1116.31,1630.84 v27.50 h2.5 v-27.50 Z M1116.31,1663.56 v27.50 h2.5 v-27.50 Z M1116.31,1696.28 v27.50 h2.5 v-27.50 Z M1116.31,1729.00 v27.50 h2.5 v-27.50 Z M1122.37,1598.12 v27.50 h2.5 v-27.50 Z M1122.37,1630.84 v27.50 h2.5 v-27.50 Z M1122.37,1696.28 v27.50 h2.5 v-27.50 Z M1122.37,1729.00 v27.50 h2.5 v-27.50 Z M1128.43,1565.40 v27.50 h2.5 v-27.50 Z M1128.43,1598.12 v27.50 h2.5 v-27.50 Z M1128.43,1663.56 v27.50 h2.5 v-27.50 Z M1128.43,1696.28 v27.50 h2.5 v-27.50 Z M1128.43,1729.00 v27.50 h2.5 v-27.50 Z M1134.50,1565.40 v27.50 h2.5 v-27.50 Z M1134.50,1598.12 v27.50 h2.5 v-27.50 Z M1134.50,1663.56 v27.50 h2.5 v-27.50 Z M1134.50,1696.28 v27.50 h2.5 v-27.50 Z M1134.50,1729.00 v27.50 h2.5 v-27.50 Z M1140.56,1630.84 v27.50 h2.5 v-27.50 Z M1140.56,1663.56 v27.50 h2.5 v-27.50 Z M1140.56,1696.28 v27.50 h2.5 v-27.50 Z M1140.56,1729.00 v27.50 h2.5 v-27.50 Z M1146.62,1598.12 v27.50 h2.5 v-27.50 Z M1146.62,1630.84 v27.50 h2.5 v-27.50 Z M1146.62,1663.56 v27.50 h2.5 v-27.50 Z M1146.62,1696.28 v27.50 h2.5 v-27.50 Z M1146.62,1729.00 v27.50 h2.5 v-27.50 Z M1152.68,1598.12 v27.50 h2.5 v-27.50 Z M1152.68,1630.84 v27.50 h2.5 v-27.50 Z M1152.68,1663.56 v27.50 h2.5 v-27.50 Z M1152.68,1696.28 v27.50 h2.5 v-27.50 Z M1152.68,1729.00 v27.50 h2.5 v-27.50 Z M1158.74,1565.40 v27.50 h2.5 v-27.50 Z M1158.74,1630.84 v27.50 h2.5 v-27.50 Z M1158.74,1663.56 v27.50 h2.5 v-27.50 Z M1158.74,1696.28 v27.50 h2.5 v-27.50 Z M1158.74,1729.00 v27.50 h2.5 v-27.50 Z M1164.80,1598.12 v27.50 h2.5 v-27.50 Z M1164.80,1630.84 v27.50 h2.5 v-27.50 Z M1164.80,1663.56 v27.50 h2.5 v-27.50 Z M1164.80,1696.28 v27.50 h2.5 v-27.50 Z M1164.80,1729.00 v27.50 h2.5 v-27.50 Z M1170.87,1630.84 v27.50 h2.5 v-27.50 Z M1170.87,1663.56 v27.50 h2.5 v-27.50 Z M1170.87,1696.28 v27.50 h2.5 v-27.50 Z M1170.87,1729.00 v27.50 h2.5 v-27.50 Z M1176.93,1663.56 v27.50 h2.5 v-27.50 Z M1176.93,1696.28 v27.50 h2.5 v-27.50 Z M1176.93,1729.00 v27.50 h2.5 v-27.50 Z M1182.99,1565.40 v27.50 h2.5 v-27.50 Z M1182.99,1630.84 v27.50 h2.5 v-27.50 Z M1182.99,1663.56 v27.50 h2.5 v-27.50 Z M1182.99,1696.28 v27.50 h2.5 v-27.50 Z M1182.99,1729.00 v27.50 h2.5 v-27.50 Z M1189.05,1598.12 v27.50 h2.5 v-27.50 Z M1189.05,1630.84 v27.50 h2.5 v-27.50 Z M1189.05,1663.56 v27.50 h2.5 v-27.50 Z M1189.05,1696.28 v27.50 h2.5 v-27.50 Z M1189.05,1729.00 v27.50 h2.5 v-27.50 Z M1195.11,1565.40 v27.50 h2.5 v-27.50 Z M1195.11,1630.84 v27.50 h2.5 v-27.50 Z M1195.11,1663.56 v27.50 h2.5 v-27.50 Z M1195.11,1696.28 v27.50 h2.5 v-27.50 Z M1195.11,1729.00 v27.50 h2.5 v-27.50 Z M1201.17,1598.12 v27.50 h2.5 v-27.50 Z M1201.17,1630.84 v27.50 h2.5 v-27.50 Z M1201.17,1696.28 v27.50 h2.5 v-27.50 Z M1201.17,1729.00 v27.50 h2.5 v-27.50 Z M1207.24,1565.40 v27.50 h2.5 v-27.50 Z M1207.24,1663.56 v27.50 h2.5 v-27.50 Z M1213.30,1565.40 v27.50 h2.5 v-27.50 Z M1213.30,1630.84 v27.50 h2.5 v-27.50 Z M1213.30,1663.56 v27.50 h2.5 v-27.50 Z M1213.30,1696.28 v27.50 h2.5 v-27.50 Z M1213.30,1729.00 v27.50 h2.5 v-27.50 Z M1219.36,1565.40 v27.50 h2.5 v-27.50 Z M1219.36,1598.12 v27.50 h2.5 v-27.50 Z M1219.36,1663.56 v27.50 h2.5 v-27.50 Z M1219.36,1729.00 v27.50 h2.5 v-27.50 Z M1225.42,1598.12 v27.50 h2.5 v-27.50 Z M1225.42,1663.56 v27.50 h2.5 v-27.50 Z M1225.42,1696.28 v27.50 h2.5 v-27.50 Z M1225.42,1729.00 v27.50 h2.5 v-27.50 Z M1231.48,1565.40 v27.50 h2.5 v-27.50 Z M1231.48,1598.12 v27.50 h2.5 v-27.50 Z M1231.48,1630.84 v27.50 h2.5 v-27.50 Z M1231.48,1696.28 v27.50 h2.5 v-27.50 Z M1231.48,1729.00 v27.50 h2.5 v-27.50 Z M1237.54,1598.12 v27.50 h2.5 v-27.50 Z M1237.54,1630.84 v27.50 h2.5 v-27.50 Z M1237.54,1696.28 v27.50 h2.5 v-27.50 Z M1237.54,1729.00 v27.50 h2.5 v-27.50 Z M1243.61,1598.12 v27.50 h2.5 v-27.50 Z M1243.61,1630.84 v27.50 h2.5 v-27.50 Z M1243.61,1663.56 v27.50 h2.5 v-27.50 Z M1243.61,1696.28 v27.50 h2.5 v-27.50 Z M1243.61,1729.00 v27.50 h2.5 v-27.50 Z M1249.67,1565.40 v27.50 h2.5 v-27.50 Z M1249.67,1630.84 v27.50 h2.5 v-27.50 Z M1249.67,1663.56 v27.50 h2.5 v-27.50 Z M1249.67,1696.28 v27.50 h2.5 v-27.50 Z M1249.67,1729.00 v27.50 h2.5 v-27.50 Z M1255.73,1565.40 v27.50 h2.5 v-27.50 Z M1255.73,1630.84 v27.50 h2.5 v-27.50 Z M1255.73,1696.28 v27.50 h2.5 v-27.50 Z M1255.73,1729.00 v27.50 h2.5 v-27.50 Z M1261.79,1630.84 v27.50 h2.5 v-27.50 Z M1261.79,1663.56 v27.50 h2.5 v-27.50 Z M1261.79,1696.28 v27.50 h2.5 v-27.50 Z M1261.79,1729.00 v27.50 h2.5 v-27.50 Z M1267.85,1598.12 v27.50 h2.5 v-27.50 Z M1267.85,1630.84 v27.50 h2.5 v-27.50 Z M1267.85,1663.56 v27.50 h2.5 v-27.50 Z M1267.85,1696.28 v27.50 h2.5 v-27.50 Z M1267.85,1729.00 v27.50 h2.5 v-27.50 Z M1273.91,1598.12 v27.50 h2.5 v-27.50 Z M1273.91,1630.84 v27.50 h2.5 v-27.50 Z M1273.91,1663.56 v27.50 h2.5 v-27.50 Z M1273.91,1696.28 v27.50 h2.5 v-27.50 Z M1273.91,1729.00 v27.50 h2.5 v-27.50 Z M1279.97,1598.12 v27.50 h2.5 v-27.50 Z M1279.97,1663.56 v27.50 h2.5 v-27.50 Z M1279.97,1729.00 v27.50 h2.5 v-27.50 Z M1286.04,1565.40 v27.50 h2.5 v-27.50 Z M1286.04,1663.56 v27.50 h2.5 v-27.50 Z M1292.10,1565.40 v27.50 h2.5 v-27.50 Z M1292.10,1598.12 v27.50 h2.5 v-27.50 Z M1292.10,1630.84 v27.50 h2.5 v-27.50 Z M1292.10,1663.56 v27.50 h2.5 v-27.50 Z M1292.10,1696.28 v27.50 h2.5 v-27.50 Z M1298.16,1565.40 v27.50 h2.5 v-27.50 Z M1298.16,1663.56 v27.50 h2.5 v-27.50 Z M1298.16,1696.28 v27.50 h2.5 v-27.50 Z M1298.16,1729.00 v27.50 h2.5 v-27.50 Z M1304.22,1598.12 v27.50 h2.5 v-27.50 Z M1304.22,1630.84 v27.50 h2.5 v-27.50 Z M1304.22,1663.56 v27.50 h2.5 v-27.50 Z M1304.22,1696.28 v27.50 h2.5 v-27.50 Z M1304.22,1729.00 v27.50 h2.5 v-27.50 Z M1310.28,1630.84 v27.50 h2.5 v-27.50 Z M1310.28,1663.56 v27.50 h2.5 v-27.50 Z M1310.28,1696.28 v27.50 h2.5 v-27.50 Z M1310.28,1729.00 v27.50 h2.5 v-27.50 Z M1316.34,1598.12 v27.50 h2.5 v-27.50 Z M1316.34,1630.84 v27.50 h2.5 v-27.50 Z M1316.34,1663.56 v27.50 h2.5 v-27.50 Z M1316.34,1696.28 v27.50 h2.5 v-27.50 Z M1316.34,1729.00 v27.50 h2.5 v-27.50 Z M1322.41,1598.12 v27.50 h2.5 v-27.50 Z M1322.41,1630.84 v27.50 h2.5 v-27.50 Z M1322.41,1663.56 v27.50 h2.5 v-27.50 Z M1322.41,1696.28 v27.50 h2.5 v-27.50 Z M1322.41,1729.00 v27.50 h2.5 v-27.50 Z M1328.47,1598.12 v27.50 h2.5 v-27.50 Z M1328.47,1630.84 v27.50 h2.5 v-27.50 Z M1328.47,1663.56 v27.50 h2.5 v-27.50 Z M1328.47,1696.28 v27.50 h2.5 v-27.50 Z M1328.47,1729.00 v27.50 h2.5 v-27.50 Z M1334.53,1565.40 v27.50 h2.5 v-27.50 Z M1334.53,1630.84 v27.50 h2.5 v-27.50 Z M1334.53,1663.56 v27.50 h2.5 v-27.50 Z M1334.53,1696.28 v27.50 h2.5 v-27.50 Z M1334.53,1729.00 v27.50 h2.5 v-27.50 Z M1340.59,1565.40 v27.50 h2.5 v-27.50 Z M1340.59,1630.84 v27.50 h2.5 v-27.50 Z M1340.59,1663.56 v27.50 h2.5 v-27.50 Z M1340.59,1696.28 v27.50 h2.5 v-27.50 Z M1340.59,1729.00 v27.50 h2.5 v-27.50 Z M1346.65,1630.84 v27.50 h2.5 v-27.50 Z M1346.65,1696.28 v27.50 h2.5 v-27.50 Z M1346.65,1729.00 v27.50 h2.5 v-27.50 Z M1352.71,1598.12 v27.50 h2.5 v-27.50 Z M1352.71,1630.84 v27.50 h2.5 v-27.50 Z M1352.71,1696.28 v27.50 h2.5 v-27.50 Z M1352.71,1729.00 v27.50 h2.5 v-27.50 Z M1358.78,1630.84 v27.50 h2.5 v-27.50 Z M1358.78,1663.56 v27.50 h2.5 v-27.50 Z M1358.78,1696.28 v27.50 h2.5 v-27.50 Z M1358.78,1729.00 v27.50 h2.5 v-27.50 Z M1364.84,1598.12 v27.50 h2.5 v-27.50 Z M1364.84,1630.84 v27.50 h2.5 v-27.50 Z M1364.84,1663.56 v27.50 h2.5 v-27.50 Z M1364.84,1696.28 v27.50 h2.5 v-27.50 Z M1364.84,1729.00 v27.50 h2.5 v-27.50 Z M1370.90,1565.40 v27.50 h2.5 v-27.50 Z M1370.90,1598.12 v27.50 h2.5 v-27.50 Z M1370.90,1663.56 v27.50 h2.5 v-27.50 Z M1376.96,1565.40 v27.50 h2.5 v-27.50 Z M1376.96,1630.84 v27.50 h2.5 v-27.50 Z M1376.96,1663.56 v27.50 h2.5 v-27.50 Z M1376.96,1696.28 v27.50 h2.5 v-27.50 Z M1383.02,1630.84 v27.50 h2.5 v-27.50 Z M1383.02,1696.28 v27.50 h2.5 v-27.50 Z M1383.02,1729.00 v27.50 h2.5 v-27.50 Z M1389.08,1565.40 v27.50 h2.5 v-27.50 Z M1389.08,1630.84 v27.50 h2.5 v-27.50 Z M1389.08,1663.56 v27.50 h2.5 v-27.50 Z M1389.08,1696.28 v27.50 h2.5 v-27.50 Z M1389.08,1729.00 v27.50 h2.5 v-27.50 Z M1395.15,1598.12 v27.50 h2.5 v-27.50 Z M1395.15,1630.84 v27.50 h2.5 v-27.50 Z M1395.15,1663.56 v27.50 h2.5 v-27.50 Z M1395.15,1696.28 v27.50 h2.5 v-27.50 Z M1395.15,1729.00 v27.50 h2.5 v-27.50 Z M1401.21,1630.84 v27.50 h2.5 v-27.50 Z M1401.21,1663.56 v27.50 h2.5 v-27.50 Z M1401.21,1696.28 v27.50 h2.5 v-27.50 Z M1401.21,1729.00 v27.50 h2.5 v-27.50 Z M1407.27,1598.12 v27.50 h2.5 v-27.50 Z M1407.27,1630.84 v27.50 h2.5 v-27.50 Z M1407.27,1663.56 v27.50 h2.5 v-27.50 Z M1407.27,1696.28 v27.50 h2.5 v-27.50 Z M1407.27,1729.00 v27.50 h2.5 v-27.50 Z M1413.33,1565.40 v27.50 h2.5 v-27.50 Z M1413.33,1630.84 v27.50 h2.5 v-27.50 Z M1413.33,1663.56 v27.50 h2.5 v-27.50 Z M1413.33,1696.28 v27.50 h2.5 v-27.50 Z M1413.33,1729.00 v27.50 h2.5 v-27.50 Z M1419.39,1565.40 v27.50 h2.5 v-27.50 Z M1419.39,1630.84 v27.50 h2.5 v-27.50 Z M1419.39,1663.56 v27.50 h2.5 v-27.50 Z M1419.39,1696.28 v27.50 h2.5 v-27.50 Z M1419.39,1729.00 v27.50 h2.5 v-27.50 Z M1425.45,1598.12 v27.50 h2.5 v-27.50 Z M1425.45,1630.84 v27.50 h2.5 v-27.50 Z M1425.45,1663.56 v27.50 h2.5 v-27.50 Z M1425.45,1696.28 v27.50 h2.5 v-27.50 Z M1425.45,1729.00 v27.50 h2.5 v-27.50 Z M1431.51,1630.84 v27.50 h2.5 v-27.50 Z M1431.51,1663.56 v27.50 h2.5 v-27.50 Z M1431.51,1696.28 v27.50 h2.5 v-27.50 Z M1431.51,1729.00 v27.50 h2.5 v-27.50 Z M1437.58,1630.84 v27.50 h2.5 v-27.50 Z M1437.58,1696.28 v27.50 h2.5 v-27.50 Z M1437.58,1729.00 v27.50 h2.5 v-27.50 Z M1443.64,1565.40 v27.50 h2.5 v-27.50 Z M1443.64,1598.12 v27.50 h2.5 v-27.50 Z M1443.64,1630.84 v27.50 h2.5 v-27.50 Z M1443.64,1663.56 v27.50 h2.5 v-27.50 Z M1443.64,1729.00 v27.50 h2.5 v-27.50 Z M1449.70,1598.12 v27.50 h2.5 v-27.50 Z M1449.70,1630.84 v27.50 h2.5 v-27.50 Z M1449.70,1663.56 v27.50 h2.5 v-27.50 Z M1449.70,1696.28 v27.50 h2.5 v-27.50 Z M1449.70,1729.00 v27.50 h2.5 v-27.50 Z M1455.76,1598.12 v27.50 h2.5 v-27.50 Z M1455.76,1663.56 v27.50 h2.5 v-27.50 Z M1461.82,1598.12 v27.50 h2.5 v-27.50 Z M1461.82,1630.84 v27.50 h2.5 v-27.50 Z M1461.82,1663.56 v27.50 h2.5 v-27.50 Z M1461.82,1696.28 v27.50 h2.5 v-27.50 Z M1461.82,1729.00 v27.50 h2.5 v-27.50 Z M1467.88,1598.12 v27.50 h2.5 v-27.50 Z M1467.88,1630.84 v27.50 h2.5 v-27.50 Z M1467.88,1663.56 v27.50 h2.5 v-27.50 Z M1467.88,1696.28 v27.50 h2.5 v-27.50 Z M1467.88,1729.00 v27.50 h2.5 v-27.50 Z M1473.95,1565.40 v27.50 h2.5 v-27.50 Z M1473.95,1630.84 v27.50 h2.5 v-27.50 Z M1473.95,1663.56 v27.50 h2.5 v-27.50 Z M1473.95,1696.28 v27.50 h2.5 v-27.50 Z M1473.95,1729.00 v27.50 h2.5 v-27.50 Z M1480.01,1598.12 v27.50 h2.5 v-27.50 Z M1480.01,1630.84 v27.50 h2.5 v-27.50 Z M1480.01,1729.00 v27.50 h2.5 v-27.50 Z M1486.07,1565.40 v27.50 h2.5 v-27.50 Z M1486.07,1630.84 v27.50 h2.5 v-27.50 Z M1486.07,1663.56 v27.50 h2.5 v-27.50 Z M1486.07,1696.28 v27.50 h2.5 v-27.50 Z M1492.13,1598.12 v27.50 h2.5 v-27.50 Z M1492.13,1630.84 v27.50 h2.5 v-27.50 Z M1492.13,1696.28 v27.50 h2.5 v-27.50 Z M1492.13,1729.00 v27.50 h2.5 v-27.50 Z M1498.19,1630.84 v27.50 h2.5 v-27.50 Z M1498.19,1663.56 v27.50 h2.5 v-27.50 Z M1498.19,1696.28 v27.50 h2.5 v-27.50 Z M1498.19,1729.00 v27.50 h2.5 v-27.50 Z M1504.25,1598.12 v27.50 h2.5 v-27.50 Z M1504.25,1630.84 v27.50 h2.5 v-27.50 Z M1504.25,1729.00 v27.50 h2.5 v-27.50 Z M1510.32,1630.84 v27.50 h2.5 v-27.50 Z M1510.32,1696.28 v27.50 h2.5 v-27.50 Z M1510.32,1729.00 v27.50 h2.5 v-27.50 Z M1516.38,1630.84 v27.50 h2.5 v-27.50 Z M1516.38,1663.56 v27.50 h2.5 v-27.50 Z M1516.38,1696.28 v27.50 h2.5 v-27.50 Z M1516.38,1729.00 v27.50 h2.5 v-27.50 Z M1522.44,1630.84 v27.50 h2.5 v-27.50 Z M1522.44,1696.28 v27.50 h2.5 v-27.50 Z M1522.44,1729.00 v27.50 h2.5 v-27.50 Z M1528.50,1598.12 v27.50 h2.5 v-27.50 Z M1528.50,1630.84 v27.50 h2.5 v-27.50 Z M1528.50,1696.28 v27.50 h2.5 v-27.50 Z M1534.56,1598.12 v27.50 h2.5 v-27.50 Z M1534.56,1663.56 v27.50 h2.5 v-27.50 Z M1534.56,1696.28 v27.50 h2.5 v-27.50 Z M1534.56,1729.00 v27.50 h2.5 v-27.50 Z M1540.62,1663.56 v27.50 h2.5 v-27.50 Z M1540.62,1729.00 v27.50 h2.5 v-27.50 Z M1546.69,1565.40 v27.50 h2.5 v-27.50 Z M1546.69,1598.12 v27.50 h2.5 v-27.50 Z M1546.69,1663.56 v27.50 h2.5 v-27.50 Z M1552.75,1598.12 v27.50 h2.5 v-27.50 Z M1552.75,1630.84 v27.50 h2.5 v-27.50 Z M1552.75,1663.56 v27.50 h2.5 v-27.50 Z M1552.75,1696.28 v27.50 h2.5 v-27.50 Z M1552.75,1729.00 v27.50 h2.5 v-27.50 Z M1558.81,1598.12 v27.50 h2.5 v-27.50 Z M1558.81,1630.84 v27.50 h2.5 v-27.50 Z M1558.81,1663.56 v27.50 h2.5 v-27.50 Z M1558.81,1696.28 v27.50 h2.5 v-27.50 Z M1558.81,1729.00 v27.50 h2.5 v-27.50 Z M1564.87,1598.12 v27.50 h2.5 v-27.50 Z M1564.87,1630.84 v27.50 h2.5 v-27.50 Z M1564.87,1663.56 v27.50 h2.5 v-27.50 Z M1564.87,1696.28 v27.50 h2.5 v-27.50 Z M1564.87,1729.00 v27.50 h2.5 v-27.50 Z M1570.93,1598.12 v27.50 h2.5 v-27.50 Z M1570.93,1630.84 v27.50 h2.5 v-27.50 Z M1570.93,1663.56 v27.50 h2.5 v-27.50 Z M1570.93,1729.00 v27.50 h2.5 v-27.50 Z M1576.99,1663.56 v27.50 h2.5 v-27.50 Z M1583.05,1565.40 v27.50 h2.5 v-27.50 Z M1583.05,1598.12 v27.50 h2.5 v-27.50 Z M1583.05,1630.84 v27.50 h2.5 v-27.50 Z M1583.05,1663.56 v27.50 h2.5 v-27.50 Z M1583.05,1729.00 v27.50 h2.5 v-27.50 Z M1589.12,1598.12 v27.50 h2.5 v-27.50 Z M1589.12,1696.28 v27.50 h2.5 v-27.50 Z M1589.12,1729.00 v27.50 h2.5 v-27.50 Z M1595.18,1598.12 v27.50 h2.5 v-27.50 Z M1595.18,1663.56 v27.50 h2.5 v-27.50 Z M1601.24,1565.40 v27.50 h2.5 v-27.50 Z M1601.24,1598.12 v27.50 h2.5 v-27.50 Z M1601.24,1630.84 v27.50 h2.5 v-27.50 Z M1601.24,1696.28 v27.50 h2.5 v-27.50 Z M1601.24,1729.00 v27.50 h2.5 v-27.50 Z M1607.30,1598.12 v27.50 h2.5 v-27.50 Z M1607.30,1630.84 v27.50 h2.5 v-27.50 Z M1607.30,1663.56 v27.50 h2.5 v-27.50 Z M1607.30,1696.28 v27.50 h2.5 v-27.50 Z M1607.30,1729.00 v27.50 h2.5 v-27.50 Z M1613.36,1598.12 v27.50 h2.5 v-27.50 Z M1613.36,1630.84 v27.50 h2.5 v-27.50 Z M1613.36,1663.56 v27.50 h2.5 v-27.50 Z M1613.36,1696.28 v27.50 h2.5 v-27.50 Z M1613.36,1729.00 v27.50 h2.5 v-27.50 Z M1619.42,1598.12 v27.50 h2.5 v-27.50 Z M1619.42,1630.84 v27.50 h2.5 v-27.50 Z M1619.42,1663.56 v27.50 h2.5 v-27.50 Z M1619.42,1696.28 v27.50 h2.5 v-27.50 Z M1619.42,1729.00 v27.50 h2.5 v-27.50 Z M1625.49,1598.12 v27.50 h2.5 v-27.50 Z M1625.49,1630.84 v27.50 h2.5 v-27.50 Z M1625.49,1663.56 v27.50 h2.5 v-27.50 Z M1625.49,1696.28 v27.50 h2.5 v-27.50 Z M1625.49,1729.00 v27.50 h2.5 v-27.50 Z M1631.55,1598.12 v27.50 h2.5 v-27.50 Z M1631.55,1630.84 v27.50 h2.5 v-27.50 Z M1631.55,1663.56 v27.50 h2.5 v-27.50 Z M1631.55,1696.28 v27.50 h2.5 v-27.50 Z M1631.55,1729.00 v27.50 h2.5 v-27.50 Z M1637.61,1565.40 v27.50 h2.5 v-27.50 Z M1637.61,1598.12 v27.50 h2.5 v-27.50 Z M1637.61,1663.56 v27.50 h2.5 v-27.50 Z M1643.67,1565.40 v27.50 h2.5 v-27.50 Z M1643.67,1598.12 v27.50 h2.5 v-27.50 Z M1643.67,1663.56 v27.50 h2.5 v-27.50 Z M1643.67,1696.28 v27.50 h2.5 v-27.50 Z M1643.67,1729.00 v27.50 h2.5 v-27.50 Z M1649.73,1598.12 v27.50 h2.5 v-27.50 Z M1649.73,1663.56 v27.50 h2.5 v-27.50 Z M1655.79,1598.12 v27.50 h2.5 v-27.50 Z M1655.79,1630.84 v27.50 h2.5 v-27.50 Z M1655.79,1663.56 v27.50 h2.5 v-27.50 Z M1655.79,1696.28 v27.50 h2.5 v-27.50 Z M1655.79,1729.00 v27.50 h2.5 v-27.50 Z M1661.86,1598.12 v27.50 h2.5 v-27.50 Z M1661.86,1630.84 v27.50 h2.5 v-27.50 Z M1661.86,1663.56 v27.50 h2.5 v-27.50 Z M1661.86,1696.28 v27.50 h2.5 v-27.50 Z M1661.86,1729.00 v27.50 h2.5 v-27.50 Z M1667.92,1565.40 v27.50 h2.5 v-27.50 Z M1667.92,1598.12 v27.50 h2.5 v-27.50 Z M1667.92,1630.84 v27.50 h2.5 v-27.50 Z M1667.92,1696.28 v27.50 h2.5 v-27.50 Z M1667.92,1729.00 v27.50 h2.5 v-27.50 Z M1673.98,1663.56 v27.50 h2.5 v-27.50 Z M1673.98,1696.28 v27.50 h2.5 v-27.50 Z M1673.98,1729.00 v27.50 h2.5 v-27.50 Z M1680.04,1598.12 v27.50 h2.5 v-27.50 Z M1680.04,1630.84 v27.50 h2.5 v-27.50 Z M1680.04,1696.28 v27.50 h2.5 v-27.50 Z M1680.04,1729.00 v27.50 h2.5 v-27.50 Z M1686.10,1598.12 v27.50 h2.5 v-27.50 Z M1686.10,1630.84 v27.50 h2.5 v-27.50 Z M1686.10,1696.28 v27.50 h2.5 v-27.50 Z M1686.10,1729.00 v27.50 h2.5 v-27.50 Z M1692.16,1598.12 v27.50 h2.5 v-27.50 Z M1692.16,1630.84 v27.50 h2.5 v-27.50 Z M1692.16,1663.56 v27.50 h2.5 v-27.50 Z M1692.16,1696.28 v27.50 h2.5 v-27.50 Z M1692.16,1729.00 v27.50 h2.5 v-27.50 Z M1698.23,1598.12 v27.50 h2.5 v-27.50 Z M1698.23,1630.84 v27.50 h2.5 v-27.50 Z M1698.23,1663.56 v27.50 h2.5 v-27.50 Z M1704.29,1565.40 v27.50 h2.5 v-27.50 Z M1704.29,1630.84 v27.50 h2.5 v-27.50 Z M1704.29,1663.56 v27.50 h2.5 v-27.50 Z M1704.29,1696.28 v27.50 h2.5 v-27.50 Z M1704.29,1729.00 v27.50 h2.5 v-27.50 Z M1710.35,1598.12 v27.50 h2.5 v-27.50 Z M1710.35,1630.84 v27.50 h2.5 v-27.50 Z M1710.35,1696.28 v27.50 h2.5 v-27.50 Z M1710.35,1729.00 v27.50 h2.5 v-27.50 Z M1716.41,1565.40 v27.50 h2.5 v-27.50 Z M1716.41,1630.84 v27.50 h2.5 v-27.50 Z M1716.41,1663.56 v27.50 h2.5 v-27.50 Z M1716.41,1696.28 v27.50 h2.5 v-27.50 Z M1722.47,1598.12 v27.50 h2.5 v-27.50 Z M1722.47,1630.84 v27.50 h2.5 v-27.50 Z M1722.47,1696.28 v27.50 h2.5 v-27.50 Z M1722.47,1729.00 v27.50 h2.5 v-27.50 Z M1728.53,1598.12 v27.50 h2.5 v-27.50 Z M1728.53,1630.84 v27.50 h2.5 v-27.50 Z M1728.53,1663.56 v27.50 h2.5 v-27.50 Z M1728.53,1696.28 v27.50 h2.5 v-27.50 Z M1728.53,1729.00 v27.50 h2.5 v-27.50 Z M1734.59,1598.12 v27.50 h2.5 v-27.50 Z M1734.59,1630.84 v27.50 h2.5 v-27.50 Z M1734.59,1663.56 v27.50 h2.5 v-27.50 Z M1734.59,1696.28 v27.50 h2.5 v-27.50 Z M1734.59,1729.00 v27.50 h2.5 v-27.50 Z M1740.66,1565.40 v27.50 h2.5 v-27.50 Z M1740.66,1598.12 v27.50 h2.5 v-27.50 Z M1740.66,1630.84 v27.50 h2.5 v-27.50 Z M1740.66,1696.28 v27.50 h2.5 v-27.50 Z M1740.66,1729.00 v27.50 h2.5 v-27.50 Z M1746.72,1598.12 v27.50 h2.5 v-27.50 Z M1746.72,1663.56 v27.50 h2.5 v-27.50 Z M1752.78,1598.12 v27.50 h2.5 v-27.50 Z M1752.78,1630.84 v27.50 h2.5 v-27.50 Z M1752.78,1663.56 v27.50 h2.5 v-27.50 Z M1752.78,1696.28 v27.50 h2.5 v-27.50 Z M1752.78,1729.00 v27.50 h2.5 v-27.50 Z M1758.84,1565.40 v27.50 h2.5 v-27.50 Z M1758.84,1598.12 v27.50 h2.5 v-27.50 Z M1758.84,1663.56 v27.50 h2.5 v-27.50 Z M1764.90,1598.12 v27.50 h2.5 v-27.50 Z M1764.90,1729.00 v27.50 h2.5 v-27.50 Z M1770.96,1598.12 v27.50 h2.5 v-27.50 Z M1770.96,1663.56 v27.50 h2.5 v-27.50 Z M1777.03,1663.56 v27.50 h2.5 v-27.50 Z M1783.09,1630.84 v27.50 h2.5 v-27.50 Z M1783.09,1696.28 v27.50 h2.5 v-27.50 Z M1783.09,1729.00 v27.50 h2.5 v-27.50 Z M1789.15,1565.40 v27.50 h2.5 v-27.50 Z M1789.15,1598.12 v27.50 h2.5 v-27.50 Z M1795.21,1598.12 v27.50 h2.5 v-27.50 Z M1795.21,1630.84 v27.50 h2.5 v-27.50 Z M1795.21,1663.56 v27.50 h2.5 v-27.50 Z M1795.21,1696.28 v27.50 h2.5 v-27.50 Z M1795.21,1729.00 v27.50 h2.5 v-27.50 Z M1801.27,1598.12 v27.50 h2.5 v-27.50 Z M1801.27,1630.84 v27.50 h2.5 v-27.50 Z M1801.27,1663.56 v27.50 h2.5 v-27.50 Z M1801.27,1696.28 v27.50 h2.5 v-27.50 Z M1801.27,1729.00 v27.50 h2.5 v-27.50 Z M1807.33,1630.84 v27.50 h2.5 v-27.50 Z M1807.33,1696.28 v27.50 h2.5 v-27.50 Z M1807.33,1729.00 v27.50 h2.5 v-27.50 Z M1813.40,1598.12 v27.50 h2.5 v-27.50 Z M1813.40,1630.84 v27.50 h2.5 v-27.50 Z M1813.40,1663.56 v27.50 h2.5 v-27.50 Z M1813.40,1696.28 v27.50 h2.5 v-27.50 Z M1813.40,1729.00 v27.50 h2.5 v-27.50 Z M1819.46,1598.12 v27.50 h2.5 v-27.50 Z M1819.46,1630.84 v27.50 h2.5 v-27.50 Z M1819.46,1696.28 v27.50 h2.5 v-27.50 Z M1819.46,1729.00 v27.50 h2.5 v-27.50 Z M1825.52,1598.12 v27.50 h2.5 v-27.50 Z M1825.52,1663.56 v27.50 h2.5 v-27.50 Z M1825.52,1696.28 v27.50 h2.5 v-27.50 Z M1825.52,1729.00 v27.50 h2.5 v-27.50 Z M1831.58,1565.40 v27.50 h2.5 v-27.50 Z M1831.58,1630.84 v27.50 h2.5 v-27.50 Z M1831.58,1663.56 v27.50 h2.5 v-27.50 Z M1831.58,1729.00 v27.50 h2.5 v-27.50 Z M1837.64,1598.12 v27.50 h2.5 v-27.50 Z M1837.64,1663.56 v27.50 h2.5 v-27.50 Z M1843.70,1598.12 v27.50 h2.5 v-27.50 Z M1843.70,1696.28 v27.50 h2.5 v-27.50 Z M1843.70,1729.00 v27.50 h2.5 v-27.50 Z M1849.77,1565.40 v27.50 h2.5 v-27.50 Z M1849.77,1598.12 v27.50 h2.5 v-27.50 Z M1849.77,1663.56 v27.50 h2.5 v-27.50 Z M1849.77,1696.28 v27.50 h2.5 v-27.50 Z M1849.77,1729.00 v27.50 h2.5 v-27.50 Z M1855.83,1598.12 v27.50 h2.5 v-27.50 Z M1855.83,1663.56 v27.50 h2.5 v-27.50 Z M1855.83,1696.28 v27.50 h2.5 v-27.50 Z M1855.83,1729.00 v27.50 h2.5 v-27.50 Z M1861.89,1565.40 v27.50 h2.5 v-27.50 Z M1861.89,1663.56 v27.50 h2.5 v-27.50 Z M1861.89,1729.00 v27.50 h2.5 v-27.50 Z M1867.95,1598.12 v27.50 h2.5 v-27.50 Z M1867.95,1630.84 v27.50 h2.5 v-27.50 Z M1867.95,1663.56 v27.50 h2.5 v-27.50 Z M1867.95,1696.28 v27.50 h2.5 v-27.50 Z M1867.95,1729.00 v27.50 h2.5 v-27.50 Z M1874.01,1598.12 v27.50 h2.5 v-27.50 Z M1874.01,1630.84 v27.50 h2.5 v-27.50 Z M1874.01,1696.28 v27.50 h2.5 v-27.50 Z M1880.07,1598.12 v27.50 h2.5 v-27.50 Z M1880.07,1696.28 v27.50 h2.5 v-27.50 Z M1880.07,1729.00 v27.50 h2.5 v-27.50 Z M1886.13,1598.12 v27.50 h2.5 v-27.50 Z M1886.13,1630.84 v27.50 h2.5 v-27.50 Z M1886.13,1663.56 v27.50 h2.5 v-27.50 Z M1886.13,1696.28 v27.50 h2.5 v-27.50 Z M1886.13,1729.00 v27.50 h2.5 v-27.50 Z M1892.20,1598.12 v27.50 h2.5 v-27.50 Z M1892.20,1630.84 v27.50 h2.5 v-27.50 Z M1892.20,1696.28 v27.50 h2.5 v-27.50 Z M1892.20,1729.00 v27.50 h2.5 v-27.50 Z M1898.26,1598.12 v27.50 h2.5 v-27.50 Z M1898.26,1663.56 v27.50 h2.5 v-27.50 Z M1904.32,1598.12 v27.50 h2.5 v-27.50 Z M1904.32,1630.84 v27.50 h2.5 v-27.50 Z M1904.32,1663.56 v27.50 h2.5 v-27.50 Z M1904.32,1696.28 v27.50 h2.5 v-27.50 Z M1904.32,1729.00 v27.50 h2.5 v-27.50 Z M1910.38,1630.84 v27.50 h2.5 v-27.50 Z M1910.38,1663.56 v27.50 h2.5 v-27.50 Z M1910.38,1696.28 v27.50 h2.5 v-27.50 Z M1910.38,1729.00 v27.50 h2.5 v-27.50 Z M1916.44,1598.12 v27.50 h2.5 v-27.50 Z M1916.44,1630.84 v27.50 h2.5 v-27.50 Z M1916.44,1696.28 v27.50 h2.5 v-27.50 Z M1916.44,1729.00 v27.50 h2.5 v-27.50 Z M1922.50,1565.40 v27.50 h2.5 v-27.50 Z M1922.50,1598.12 v27.50 h2.5 v-27.50 Z M1922.50,1630.84 v27.50 h2.5 v-27.50 Z M1922.50,1663.56 v27.50 h2.5 v-27.50 Z M1922.50,1696.28 v27.50 h2.5 v-27.50 Z M1928.57,1598.12 v27.50 h2.5 v-27.50 Z M1928.57,1630.84 v27.50 h2.5 v-27.50 Z M1928.57,1663.56 v27.50 h2.5 v-27.50 Z M1928.57,1696.28 v27.50 h2.5 v-27.50 Z M1928.57,1729.00 v27.50 h2.5 v-27.50 Z M1934.63,1598.12 v27.50 h2.5 v-27.50 Z M1934.63,1630.84 v27.50 h2.5 v-27.50 Z M1934.63,1696.28 v27.50 h2.5 v-27.50 Z M1934.63,1729.00 v27.50 h2.5 v-27.50 Z M1940.69,1598.12 v27.50 h2.5 v-27.50 Z M1940.69,1630.84 v27.50 h2.5 v-27.50 Z M1940.69,1663.56 v27.50 h2.5 v-27.50 Z M1940.69,1696.28 v27.50 h2.5 v-27.50 Z M1940.69,1729.00 v27.50 h2.5 v-27.50 Z M1946.75,1565.40 v27.50 h2.5 v-27.50 Z M1946.75,1598.12 v27.50 h2.5 v-27.50 Z M1946.75,1630.84 v27.50 h2.5 v-27.50 Z M1946.75,1696.28 v27.50 h2.5 v-27.50 Z M1946.75,1729.00 v27.50 h2.5 v-27.50 Z" fill="#dcdcdc"/>
<path d="M1109.35,1564.30 v29.70 h4.3 v-29.70 Z M1109.35,1597.02 v29.70 h4.3 v-29.70 Z M1109.35,1629.74 v29.70 h4.3 v-29.70 Z M1115.41,1564.30 v29.70 h4.3 v-29.70 Z M1121.47,1564.30 v29.70 h4.3 v-29.70 Z M1121.47,1662.46 v29.70 h4.3 v-29.70 Z M1127.53,1629.74 v29.70 h4.3 v-29.70 Z M1133.60,1629.74 v29.70 h4.3 v-29.70 Z M1139.66,1564.30 v29.70 h4.3 v-29.70 Z M1145.72,1564.30 v29.70 h4.3 v-29.70 Z M1151.78,1564.30 v29.70 h4.3 v-29.70 Z M1157.84,1597.02 v29.70 h4.3 v-29.70 Z M1163.90,1564.30 v29.70 h4.3 v-29.70 Z M1169.97,1564.30 v29.70 h4.3 v-29.70 Z M1169.97,1597.02 v29.70 h4.3 v-29.70 Z M1176.03,1629.74 v29.70 h4.3 v-29.70 Z M1194.21,1597.02 v29.70 h4.3 v-29.70 Z M1200.27,1564.30 v29.70 h4.3 v-29.70 Z M1206.34,1597.02 v29.70 h4.3 v-29.70 Z M1206.34,1629.74 v29.70 h4.3 v-29.70 Z M1206.34,1695.18 v29.70 h4.3 v-29.70 Z M1206.34,1727.90 v29.70 h4.3 v-29.70 Z M1212.40,1597.02 v29.70 h4.3 v-29.70 Z M1218.46,1629.74 v29.70 h4.3 v-29.70 Z M1218.46,1695.18 v29.70 h4.3 v-29.70 Z M1224.52,1629.74 v29.70 h4.3 v-29.70 Z M1230.58,1662.46 v29.70 h4.3 v-29.70 Z M1236.64,1662.46 v29.70 h4.3 v-29.70 Z M1242.71,1564.30 v29.70 h4.3 v-29.70 Z M1248.77,1597.02 v29.70 h4.3 v-29.70 Z M1254.83,1597.02 v29.70 h4.3 v-29.70 Z M1254.83,1662.46 v29.70 h4.3 v-29.70 Z M1260.89,1564.30 v29.70 h4.3 v-29.70 Z M1260.89,1597.02 v29.70 h4.3 v-29.70 Z M1266.95,1564.30 v29.70 h4.3 v-29.70 Z M1273.01,1564.30 v29.70 h4.3 v-29.70 Z M1279.07,1629.74 v29.70 h4.3 v-29.70 Z M1279.07,1695.18 v29.70 h4.3 v-29.70 Z M1285.14,1597.02 v29.70 h4.3 v-29.70 Z M1285.14,1629.74 v29.70 h4.3 v-29.70 Z M1285.14,1695.18 v29.70 h4.3 v-29.70 Z M1285.14,1727.90 v29.70 h4.3 v-29.70 Z M1291.20,1727.90 v29.70 h4.3 v-29.70 Z M1297.26,1597.02 v29.70 h4.3 v-29.70 Z M1297.26,1629.74 v29.70 h4.3 v-29.70 Z M1303.32,1564.30 v29.70 h4.3 v-29.70 Z M1309.38,1564.30 v29.70 h4.3 v-29.70 Z M1309.38,1597.02 v29.70 h4.3 v-29.70 Z M1315.44,1564.30 v29.70 h4.3 v-29.70 Z M1321.51,1564.30 v29.70 h4.3 v-29.70 Z M1327.57,1564.30 v29.70 h4.3 v-29.70 Z M1339.69,1597.02 v29.70 h4.3 v-29.70 Z M1345.75,1564.30 v29.70 h4.3 v-29.70 Z M1345.75,1597.02 v29.70 h4.3 v-29.70 Z M1345.75,1662.46 v29.70 h4.3 v-29.70 Z M1351.81,1564.30 v29.70 h4.3 v-29.70 Z M1351.81,1662.46 v29.70 h4.3 v-29.70 Z M1357.88,1564.30 v29.70 h4.3 v-29.70 Z M1357.88,1597.02 v29.70 h4.3 v-29.70 Z M1363.94,1564.30 v29.70 h4.3 v-29.70 Z M1370.00,1629.74 v29.70 h4.3 v-29.70 Z M1370.00,1695.18 v29.70 h4.3 v-29.70 Z M1370.00,1727.90 v29.70 h4.3 v-29.70 Z M1376.06,1597.02 v29.70 h4.3 v-29.70 Z M1376.06,1727.90 v29.70 h4.3 v-29.70 Z M1382.12,1564.30 v29.70 h4.3 v-29.70 Z M1382.12,1597.02 v29.70 h4.3 v-29.70 Z M1382.12,1662.46 v29.70 h4.3 v-29.70 Z M1388.18,1597.02 v29.70 h4.3 v-29.70 Z M1400.31,1564.30 v29.70 h4.3 v-29.70 Z M1412.43,1597.02 v29.70 h4.3 v-29.70 Z M1418.49,1597.02 v29.70 h4.3 v-29.70 Z M1424.55,1564.30 v29.70 h4.3 v-29.70 Z M1430.61,1564.30 v29.70 h4.3 v-29.70 Z M1430.61,1597.02 v29.70 h4.3 v-29.70 Z M1436.68,1597.02 v29.70 h4.3 v-29.70 Z M1436.68,1662.46 v29.70 h4.3 v-29.70 Z M1442.74,1695.18 v29.70 h4.3 v-29.70 Z M1448.80,1564.30 v29.70 h4.3 v-29.70 Z M1454.86,1564.30 v29.70 h4.3 v-29.70 Z M1454.86,1629.74 v29.70 h4.3 v-29.70 Z M1454.86,1695.18 v29.70 h4.3 v-29.70 Z M1454.86,1727.90 v29.70 h4.3 v-29.70 Z M1466.98,1564.30 v29.70 h4.3 v-29.70 Z M1473.05,1597.02 v29.70 h4.3 v-29.70 Z M1479.11,1662.46 v29.70 h4.3 v-29.70 Z M1479.11,1695.18 v29.70 h4.3 v-29.70 Z M1485.17,1597.02 v29.70 h4.3 v-29.70 Z M1485.17,1727.90 v29.70 h4.3 v-29.70 Z M1491.23,1564.30 v29.70 h4.3 v-29.70 Z M1491.23,1662.46 v29.70 h4.3 v-29.70 Z M1497.29,1597.02 v29.70 h4.3 v-29.70 Z M1503.35,1564.30 v29.70 h4.3 v-29.70 Z M1503.35,1662.46 v29.70 h4.3 v-29.70 Z M1503.35,1695.18 v29.70 h4.3 v-29.70 Z M1509.42,1564.30 v29.70 h4.3 v-29.70 Z M1509.42,1597.02 v29.70 h4.3 v-29.70 Z M1509.42,1662.46 v29.70 h4.3 v-29.70 Z M1515.48,1564.30 v29.70 h4.3 v-29.70 Z M1515.48,1597.02 v29.70 h4.3 v-29.70 Z M1521.54,1564.30 v29.70 h4.3 v-29.70 Z M1521.54,1597.02 v29.70 h4.3 v-29.70 Z M1521.54,1662.46 v29.70 h4.3 v-29.70 Z M1527.60,1564.30 v29.70 h4.3 v-29.70 Z M1527.60,1662.46 v29.70 h4.3 v-29.70 Z M1527.60,1727.90 v29.70 h4.3 v-29.70 Z M1533.66,1564.30 v29.70 h4.3 v-29.70 Z M1533.66,1629.74 v29.70 h4.3 v-29.70 Z M1539.72,1597.02 v29.70 h4.3 v-29.70 Z M1539.72,1629.74 v29.70 h4.3 v-29.70 Z M1539.72,1695.18 v29.70 h4.3 v-29.70 Z M1545.79,1629.74 v29.70 h4.3 v-29.70 Z M1545.79,1695.18 v29.70 h4.3 v-29.70 Z M1545.79,1727.90 v29.70 h4.3 v-29.70 Z M1551.85,1564.30 v29.70 h4.3 v-29.70 Z M1557.91,1564.30 v29.70 h4.3 v-29.70 Z M1563.97,1564.30 v29.70 h4.3 v-29.70 Z M1570.03,1564.30 v29.70 h4.3 v-29.70 Z M1570.03,1695.18 v29.70 h4.3 v-29.70 Z M1576.09,1564.30 v29.70 h4.3 v-29.70 Z M1576.09,1597.02 v29.70 h4.3 v-29.70 Z M1576.09,1629.74 v29.70 h4.3 v-29.70 Z M1576.09,1695.18 v29.70 h4.3 v-29.70 Z M1576.09,1727.90 v29.70 h4.3 v-29.70 Z M1582.15,1695.18 v29.70 h4.3 v-29.70 Z M1588.22,1629.74 v29.70 h4.3 v-29.70 Z M1588.22,1662.46 v29.70 h4.3 v-29.70 Z M1594.28,1564.30 v29.70 h4.3 v-29.70 Z M1594.28,1629.74 v29.70 h4.3 v-29.70 Z M1594.28,1695.18 v29.70 h4.3 v-29.70 Z M1594.28,1727.90 v29.70 h4.3 v-29.70 Z M1600.34,1662.46 v29.70 h4.3 v-29.70 Z M1606.40,1564.30 v29.70 h4.3 v-29.70 Z M1624.59,1564.30 v29.70 h4.3 v-29.70 Z M1630.65,1564.30 v29.70 h4.3 v-29.70 Z M1636.71,1629.74 v29.70 h4.3 v-29.70 Z M1636.71,1695.18 v29.70 h4.3 v-29.70 Z M1636.71,1727.90 v29.70 h4.3 v-29.70 Z M1642.77,1629.74 v29.70 h4.3 v-29.70 Z M1648.83,1564.30 v29.70 h4.3 v-29.70 Z M1648.83,1629.74 v29.70 h4.3 v-29.70 Z M1648.83,1695.18 v29.70 h4.3 v-29.70 Z M1648.83,1727.90 v29.70 h4.3 v-29.70 Z M1654.89,1564.30 v29.70 h4.3 v-29.70 Z M1667.02,1662.46 v29.70 h4.3 v-29.70 Z M1673.08,1564.30 v29.70 h4.3 v-29.70 Z M1673.08,1597.02 v29.70 h4.3 v-29.70 Z M1673.08,1629.74 v29.70 h4.3 v-29.70 Z M1679.14,1564.30 v29.70 h4.3 v-29.70 Z M1679.14,1662.46 v29.70 h4.3 v-29.70 Z M1685.20,1564.30 v29.70 h4.3 v-29.70 Z M1685.20,1662.46 v29.70 h4.3 v-29.70 Z M1691.26,1564.30 v29.70 h4.3 v-29.70 Z M1697.33,1695.18 v29.70 h4.3 v-29.70 Z M1697.33,1727.90 v29.70 h4.3 v-29.70 Z M1703.39,1597.02 v29.70 h4.3 v-29.70 Z M1709.45,1662.46 v29.70 h4.3 v-29.70 Z M1715.51,1727.90 v29.70 h4.3 v-29.70 Z M1721.57,1564.30 v29.70 h4.3 v-29.70 Z M1721.57,1662.46 v29.70 h4.3 v-29.70 Z M1727.63,1564.30 v29.70 h4.3 v-29.70 Z M1733.69,1564.30 v29.70 h4.3 v-29.70 Z M1739.76,1662.46 v29.70 h4.3 v-29.70 Z M1745.82,1564.30 v29.70 h4.3 v-29.70 Z M1745.82,1629.74 v29.70 h4.3 v-29.70 Z M1745.82,1695.18 v29.70 h4.3 v-29.70 Z M1745.82,1727.90 v29.70 h4.3 v-29.70 Z M1751.88,1564.30 v29.70 h4.3 v-29.70 Z M1757.94,1629.74 v29.70 h4.3 v-29.70 Z M1757.94,1695.18 v29.70 h4.3 v-29.70 Z M1757.94,1727.90 v29.70 h4.3 v-29.70 Z M1764.00,1564.30 v29.70 h4.3 v-29.70 Z M1764.00,1629.74 v29.70 h4.3 v-29.70 Z M1764.00,1695.18 v29.70 h4.3 v-29.70 Z M1770.06,1564.30 v29.70 h4.3 v-29.70 Z M1770.06,1629.74 v29.70 h4.3 v-29.70 Z M1770.06,1695.18 v29.70 h4.3 v-29.70 Z M1770.06,1727.90 v29.70 h4.3 v-29.70 Z M1776.13,1564.30 v29.70 h4.3 v-29.70 Z M1776.13,1629.74 v29.70 h4.3 v-29.70 Z M1776.13,1695.18 v29.70 h4.3 v-29.70 Z M1776.13,1727.90 v29.70 h4.3 v-29.70 Z M1782.19,1564.30 v29.70 h4.3 v-29.70 Z M1782.19,1597.02 v29.70 h4.3 v-29.70 Z M1782.19,1662.46 v29.70 h4.3 v-29.70 Z M1788.25,1629.74 v29.70 h4.3 v-29.70 Z M1788.25,1662.46 v29.70 h4.3 v-29.70 Z M1788.25,1695.18 v29.70 h4.3 v-29.70 Z M1788.25,1727.90 v29.70 h4.3 v-29.70 Z M1794.31,1564.30 v29.70 h4.3 v-29.70 Z M1800.37,1564.30 v29.70 h4.3 v-29.70 Z M1806.43,1564.30 v29.70 h4.3 v-29.70 Z M1806.43,1597.02 v29.70 h4.3 v-29.70 Z M1806.43,1662.46 v29.70 h4.3 v-29.70 Z M1812.50,1564.30 v29.70 h4.3 v-29.70 Z M1818.56,1564.30 v29.70 h4.3 v-29.70 Z M1818.56,1662.46 v29.70 h4.3 v-29.70 Z M1824.62,1564.30 v29.70 h4.3 v-29.70 Z M1824.62,1629.74 v29.70 h4.3 v-29.70 Z M1830.68,1597.02 v29.70 h4.3 v-29.70 Z M1830.68,1695.18 v29.70 h4.3 v-29.70 Z M1836.74,1564.30 v29.70 h4.3 v-29.70 Z M1836.74,1629.74 v29.70 h4.3 v-29.70 Z M1836.74,1695.18 v29.70 h4.3 v-29.70 Z M1836.74,1727.90 v29.70 h4.3 v-29.70 Z M1842.80,1564.30 v29.70 h4.3 v-29.70 Z M1842.80,1629.74 v29.70 h4.3 v-29.70 Z M1842.80,1662.46 v29.70 h4.3 v-29.70 Z M1848.87,1629.74 v29.70 h4.3 v-29.70 Z M1854.93,1629.74 v29.70 h4.3 v-29.70 Z M1860.99,1597.02 v29.70 h4.3 v-29.70 Z M1860.99,1629.74 v29.70 h4.3 v-29.70 Z M1860.99,1695.18 v29.70 h4.3 v-29.70 Z M1867.05,1564.30 v29.70 h4.3 v-29.70 Z M1873.11,1662.46 v29.70 h4.3 v-29.70 Z M1873.11,1727.90 v29.70 h4.3 v-29.70 Z M1879.17,1564.30 v29.70 h4.3 v-29.70 Z M1879.17,1629.74 v29.70 h4.3 v-29.70 Z M1879.17,1662.46 v29.70 h4.3 v-29.70 Z M1891.30,1564.30 v29.70 h4.3 v-29.70 Z M1891.30,1662.46 v29.70 h4.3 v-29.70 Z M1897.36,1564.30 v29.70 h4.3 v-29.70 Z M1897.36,1629.74 v29.70 h4.3 v-29.70 Z M1897.36,1695.18 v29.70 h4.3 v-29.70 Z M1897.36,1727.90 v29.70 h4.3 v-29.70 Z M1903.42,1564.30 v29.70 h4.3 v-29.70 Z M1909.48,1564.30 v29.70 h4.3 v-29.70 Z M1909.48,1597.02 v29.70 h4.3 v-29.70 Z M1915.54,1564.30 v29.70 h4.3 v-29.70 Z M1915.54,1662.46 v29.70 h4.3 v-29.70 Z M1921.60,1727.90 v29.70 h4.3 v-29.70 Z M1927.67,1564.30 v29.70 h4.3 v-29.70 Z M1933.73,1564.30 v29.70 h4.3 v-29.70 Z M1933.73,1662.46 v29.70 h4.3 v-29.70 Z M1939.79,1564.30 v29.70 h4.3 v-29.70 Z M1945.85,1662.46 v29.70 h4.3 v-29.70 Z" fill="#c483bd"/>
<path d="M1139.66,1597.02 v29.70 h4.3 v-29.70 Z M1176.03,1564.30 v29.70 h4.3 v-29.70 Z M1176.03,1597.02 v29.70 h4.3 v-29.70 Z M1182.09,1597.02 v29.70 h4.3 v-29.70 Z M1188.15,1564.30 v29.70 h4.3 v-29.70 Z M1200.27,1662.46 v29.70 h4.3 v-29.70 Z M1224.52,1564.30 v29.70 h4.3 v-29.70 Z M1236.64,1564.30 v29.70 h4.3 v-29.70 Z M1279.07,1564.30 v29.70 h4.3 v-29.70 Z M1333.63,1597.02 v29.70 h4.3 v-29.70 Z M1394.25,1564.30 v29.70 h4.3 v-29.70 Z M1400.31,1597.02 v29.70 h4.3 v-29.70 Z M1406.37,1564.30 v29.70 h4.3 v-29.70 Z M1436.68,1564.30 v29.70 h4.3 v-29.70 Z M1460.92,1564.30 v29.70 h4.3 v-29.70 Z M1479.11,1564.30 v29.70 h4.3 v-29.70 Z M1497.29,1564.30 v29.70 h4.3 v-29.70 Z M1539.72,1564.30 v29.70 h4.3 v-29.70 Z M1588.22,1564.30 v29.70 h4.3 v-29.70 Z M1612.46,1564.30 v29.70 h4.3 v-29.70 Z M1618.52,1564.30 v29.70 h4.3 v-29.70 Z M1660.96,1564.30 v29.70 h4.3 v-29.70 Z M1697.33,1564.30 v29.70 h4.3 v-29.70 Z M1709.45,1564.30 v29.70 h4.3 v-29.70 Z M1715.51,1597.02 v29.70 h4.3 v-29.70 Z M1764.00,1662.46 v29.70 h4.3 v-29.70 Z M1776.13,1597.02 v29.70 h4.3 v-29.70 Z M1854.93,1564.30 v29.70 h4.3 v-29.70 Z M1873.11,1564.30 v29.70 h4.3 v-29.70 Z M1885.23,1564.30 v29.70 h4.3 v-29.70 Z" fill="#e0312a"/>
<path d="M1108.95,1553.20 v-103.86 h5.1 v103.86 Z M1115.01,1553.20 v-34.62 h5.1 v34.62 Z M1121.07,1553.20 v-69.24 h5.1 v69.24 Z M1127.13,1553.20 v-34.62 h5.1 v34.62 Z M1133.20,1553.20 v-34.62 h5.1 v34.62 Z M1139.26,1553.20 v-34.62 h5.1 v34.62 Z M1145.32,1553.20 v-34.62 h5.1 v34.62 Z M1151.38,1553.20 v-34.62 h5.1 v34.62 Z M1157.44,1553.20 v-34.62 h5.1 v34.62 Z M1163.50,1553.20 v-34.62 h5.1 v34.62 Z M1169.57,1553.20 v-69.24 h5.1 v69.24 Z M1175.63,1553.20 v-34.62 h5.1 v34.62 Z M1193.81,1553.20 v-34.62 h5.1 v34.62 Z M1199.87,1553.20 v-34.62 h5.1 v34.62 Z M1205.94,1553.20 v-138.48 h5.1 v138.48 Z M1212.00,1553.20 v-34.62 h5.1 v34.62 Z M1218.06,1553.20 v-69.24 h5.1 v69.24 Z M1224.12,1553.20 v-34.62 h5.1 v34.62 Z M1230.18,1553.20 v-34.62 h5.1 v34.62 Z M1236.24,1553.20 v-34.62 h5.1 v34.62 Z M1242.31,1553.20 v-34.62 h5.1 v34.62 Z M1248.37,1553.20 v-34.62 h5.1 v34.62 Z M1254.43,1553.20 v-69.24 h5.1 v69.24 Z M1260.49,1553.20 v-69.24 h5.1 v69.24 Z M1266.55,1553.20 v-34.62 h5.1 v34.62 Z M1272.61,1553.20 v-34.62 h5.1 v34.62 Z M1278.67,1553.20 v-69.24 h5.1 v69.24 Z M1284.74,1553.20 v-138.48 h5.1 v138.48 Z M1290.80,1553.20 v-34.62 h5.1 v34.62 Z M1296.86,1553.20 v-69.24 h5.1 v69.24 Z M1302.92,1553.20 v-34.62 h5.1 v34.62 Z M1308.98,1553.20 v-69.24 h5.1 v69.24 Z M1315.04,1553.20 v-34.62 h5.1 v34.62 Z M1321.11,1553.20 v-34.62 h5.1 v34.62 Z M1327.17,1553.20 v-34.62 h5.1 v34.62 Z M1339.29,1553.20 v-34.62 h5.1 v34.62 Z M1345.35,1553.20 v-103.86 h5.1 v103.86 Z M1351.41,1553.20 v-69.24 h5.1 v69.24 Z M1357.48,1553.20 v-69.24 h5.1 v69.24 Z M1363.54,1553.20 v-34.62 h5.1 v34.62 Z M1369.60,1553.20 v-103.86 h5.1 v103.86 Z M1375.66,1553.20 v-69.24 h5.1 v69.24 Z M1381.72,1553.20 v-103.86 h5.1 v103.86 Z M1387.78,1553.20 v-34.62 h5.1 v34.62 Z M1399.91,1553.20 v-34.62 h5.1 v34.62 Z M1412.03,1553.20 v-34.62 h5.1 v34.62 Z M1418.09,1553.20 v-34.62 h5.1 v34.62 Z M1424.15,1553.20 v-34.62 h5.1 v34.62 Z M1430.21,1553.20 v-69.24 h5.1 v69.24 Z M1436.28,1553.20 v-69.24 h5.1 v69.24 Z M1442.34,1553.20 v-34.62 h5.1 v34.62 Z M1448.40,1553.20 v-34.62 h5.1 v34.62 Z M1454.46,1553.20 v-138.48 h5.1 v138.48 Z M1466.58,1553.20 v-34.62 h5.1 v34.62 Z M1472.65,1553.20 v-34.62 h5.1 v34.62 Z M1478.71,1553.20 v-69.24 h5.1 v69.24 Z M1484.77,1553.20 v-69.24 h5.1 v69.24 Z M1490.83,1553.20 v-69.24 h5.1 v69.24 Z M1496.89,1553.20 v-34.62 h5.1 v34.62 Z M1502.95,1553.20 v-103.86 h5.1 v103.86 Z M1509.02,1553.20 v-103.86 h5.1 v103.86 Z M1515.08,1553.20 v-69.24 h5.1 v69.24 Z M1521.14,1553.20 v-103.86 h5.1 v103.86 Z M1527.20,1553.20 v-103.86 h5.1 v103.86 Z M1533.26,1553.20 v-69.24 h5.1 v69.24 Z M1539.32,1553.20 v-103.86 h5.1 v103.86 Z M1545.39,1553.20 v-103.86 h5.1 v103.86 Z M1551.45,1553.20 v-34.62 h5.1 v34.62 Z M1557.51,1553.20 v-34.62 h5.1 v34.62 Z M1563.57,1553.20 v-34.62 h5.1 v34.62 Z M1569.63,1553.20 v-69.24 h5.1 v69.24 Z M1575.69,1553.20 v-173.10 h5.1 v173.10 Z M1581.75,1553.20 v-34.62 h5.1 v34.62 Z M1587.82,1553.20 v-69.24 h5.1 v69.24 Z M1593.88,1553.20 v-138.48 h5.1 v138.48 Z M1599.94,1553.20 v-34.62 h5.1 v34.62 Z M1606.00,1553.20 v-34.62 h5.1 v34.62 Z M1624.19,1553.20 v-34.62 h5.1 v34.62 Z M1630.25,1553.20 v-34.62 h5.1 v34.62 Z M1636.31,1553.20 v-103.86 h5.1 v103.86 Z M1642.37,1553.20 v-34.62 h5.1 v34.62 Z M1648.43,1553.20 v-138.48 h5.1 v138.48 Z M1654.49,1553.20 v-34.62 h5.1 v34.62 Z M1666.62,1553.20 v-34.62 h5.1 v34.62 Z M1672.68,1553.20 v-103.86 h5.1 v103.86 Z M1678.74,1553.20 v-69.24 h5.1 v69.24 Z M1684.80,1553.20 v-69.24 h5.1 v69.24 Z M1690.86,1553.20 v-34.62 h5.1 v34.62 Z M1696.93,1553.20 v-69.24 h5.1 v69.24 Z M1702.99,1553.20 v-34.62 h5.1 v34.62 Z M1709.05,1553.20 v-34.62 h5.1 v34.62 Z M1715.11,1553.20 v-34.62 h5.1 v34.62 Z M1721.17,1553.20 v-69.24 h5.1 v69.24 Z M1727.23,1553.20 v-34.62 h5.1 v34.62 Z M1733.29,1553.20 v-34.62 h5.1 v34.62 Z M1739.36,1553.20 v-34.62 h5.1 v34.62 Z M1745.42,1553.20 v-138.48 h5.1 v138.48 Z M1751.48,1553.20 v-34.62 h5.1 v34.62 Z M1757.54,1553.20 v-103.86 h5.1 v103.86 Z M1763.60,1553.20 v-103.86 h5.1 v103.86 Z M1769.66,1553.20 v-138.48 h5.1 v138.48 Z M1775.73,1553.20 v-138.48 h5.1 v138.48 Z M1781.79,1553.20 v-103.86 h5.1 v103.86 Z M1787.85,1553.20 v-138.48 h5.1 v138.48 Z M1793.91,1553.20 v-34.62 h5.1 v34.62 Z M1799.97,1553.20 v-34.62 h5.1 v34.62 Z M1806.03,1553.20 v-103.86 h5.1 v103.86 Z M1812.10,1553.20 v-34.62 h5.1 v34.62 Z M1818.16,1553.20 v-69.24 h5.1 v69.24 Z M1824.22,1553.20 v-69.24 h5.1 v69.24 Z M1830.28,1553.20 v-69.24 h5.1 v69.24 Z M1836.34,1553.20 v-138.48 h5.1 v138.48 Z M1842.40,1553.20 v-103.86 h5.1 v103.86 Z M1848.47,1553.20 v-34.62 h5.1 v34.62 Z M1854.53,1553.20 v-34.62 h5.1 v34.62 Z M1860.59,1553.20 v-103.86 h5.1 v103.86 Z M1866.65,1553.20 v-34.62 h5.1 v34.62 Z M1872.71,1553.20 v-69.24 h5.1 v69.24 Z M1878.77,1553.20 v-103.86 h5.1 v103.86 Z M1890.90,1553.20 v-69.24 h5.1 v69.24 Z M1896.96,1553.20 v-138.48 h5.1 v138.48 Z M1903.02,1553.20 v-34.62 h5.1 v34.62 Z M1909.08,1553.20 v-69.24 h5.1 v69.24 Z M1915.14,1553.20 v-69.24 h5.1 v69.24 Z M1921.20,1553.20 v-34.62 h5.1 v34.62 Z M1927.27,1553.20 v-34.62 h5.1 v34.62 Z M1933.33,1553.20 v-69.24 h5.1 v69.24 Z M1939.39,1553.20 v-34.62 h5.1 v34.62 Z M1945.45,1553.20 v-34.62 h5.1 v34.62 Z" fill="#c483bd"/>
<path d="M1139.26,1518.58 v-34.62 h5.1 v34.62 Z M1175.63,1518.58 v-69.24 h5.1 v69.24 Z M1181.69,1553.20 v-34.62 h5.1 v34.62 Z M1187.75,1553.20 v-34.62 h5.1 v34.62 Z M1199.87,1518.58 v-34.62 h5.1 v34.62 Z M1224.12,1518.58 v-34.62 h5.1 v34.62 Z M1236.24,1518.58 v-34.62 h5.1 v34.62 Z M1278.67,1483.96 v-34.62 h5.1 v34.62 Z M1333.23,1553.20 v-34.62 h5.1 v34.62 Z M1393.85,1553.20 v-34.62 h5.1 v34.62 Z M1399.91,1518.58 v-34.62 h5.1 v34.62 Z M1405.97,1553.20 v-34.62 h5.1 v34.62 Z M1436.28,1483.96 v-34.62 h5.1 v34.62 Z M1460.52,1553.20 v-34.62 h5.1 v34.62 Z M1478.71,1483.96 v-34.62 h5.1 v34.62 Z M1496.89,1518.58 v-34.62 h5.1 v34.62 Z M1539.32,1449.34 v-34.62 h5.1 v34.62 Z M1587.82,1483.96 v-34.62 h5.1 v34.62 Z M1612.06,1553.20 v-34.62 h5.1 v34.62 Z M1618.12,1553.20 v-34.62 h5.1 v34.62 Z M1660.56,1553.20 v-34.62 h5.1 v34.62 Z M1696.93,1483.96 v-34.62 h5.1 v34.62 Z M1709.05,1518.58 v-34.62 h5.1 v34.62 Z M1715.11,1518.58 v-34.62 h5.1 v34.62 Z M1763.60,1449.34 v-34.62 h5.1 v34.62 Z M1775.73,1414.72 v-34.62 h5.1 v34.62 Z M1854.53,1518.58 v-34.62 h5.1 v34.62 Z M1872.71,1483.96 v-34.62 h5.1 v34.62 Z M1884.83,1553.20 v-34.62 h5.1 v34.62 Z" fill="#e0312a"/>
<line x1="1108.70" y1="1378.50" x2="1108.70" y2="1554.80" stroke="#000" stroke-width="3.2"/>
<line x1="1095.80" y1="1553.20" x2="1108.70" y2="1553.20" stroke="#000" stroke-width="3.2" stroke-linecap="round"/>
<text x="1084.60" y="1561.40" font-size="24.60" text-anchor="end" textLength="13.45" lengthAdjust="spacingAndGlyphs">0</text>
<line x1="1095.80" y1="1518.58" x2="1108.70" y2="1518.58" stroke="#000" stroke-width="3.2" stroke-linecap="round"/>
<text x="1084.60" y="1526.78" font-size="24.60" text-anchor="end" textLength="13.45" lengthAdjust="spacingAndGlyphs">1</text>
<line x1="1095.80" y1="1483.96" x2="1108.70" y2="1483.96" stroke="#000" stroke-width="3.2" stroke-linecap="round"/>
<text x="1084.60" y="1492.16" font-size="24.60" text-anchor="end" textLength="13.45" lengthAdjust="spacingAndGlyphs">2</text>
<line x1="1095.80" y1="1449.34" x2="1108.70" y2="1449.34" stroke="#000" stroke-width="3.2" stroke-linecap="round"/>
<text x="1084.60" y="1457.54" font-size="24.60" text-anchor="end" textLength="13.45" lengthAdjust="spacingAndGlyphs">3</text>
<line x1="1095.80" y1="1414.72" x2="1108.70" y2="1414.72" stroke="#000" stroke-width="3.2" stroke-linecap="round"/>
<text x="1084.60" y="1422.92" font-size="24.60" text-anchor="end" textLength="13.45" lengthAdjust="spacingAndGlyphs">4</text>
<line x1="1095.80" y1="1380.10" x2="1108.70" y2="1380.10" stroke="#000" stroke-width="3.2" stroke-linecap="round"/>
<text x="1084.60" y="1388.30" font-size="24.60" text-anchor="end" textLength="13.45" lengthAdjust="spacingAndGlyphs">5</text>
<line x1="1495.10" y1="1385.95" x2="1495.10" y2="1754.00" stroke="#000" stroke-width="2.5" stroke-dasharray="14.8 14.61" stroke-linecap="round"/>
<text x="1095.00" y="1586.00" font-size="24.80" text-anchor="end" textLength="48.82" lengthAdjust="spacingAndGlyphs">45%</text>
<text x="1957.00" y="1586.60" font-size="25.23" textLength="73.38" lengthAdjust="spacingAndGlyphs">7p21.3</text>
<text x="1095.00" y="1618.90" font-size="24.80" text-anchor="end" textLength="48.82" lengthAdjust="spacingAndGlyphs">20%</text>
<text x="1957.00" y="1619.50" font-size="25.23" textLength="73.38" lengthAdjust="spacingAndGlyphs">1q31.1</text>
<text x="1095.00" y="1651.80" font-size="24.80" text-anchor="end" textLength="48.82" lengthAdjust="spacingAndGlyphs">16%</text>
<text x="1957.00" y="1652.40" font-size="25.23" textLength="73.38" lengthAdjust="spacingAndGlyphs">3p14.2</text>
<text x="1095.00" y="1684.70" font-size="24.80" text-anchor="end" textLength="48.82" lengthAdjust="spacingAndGlyphs">16%</text>
<text x="1957.00" y="1685.30" font-size="25.23" textLength="53.37" lengthAdjust="spacingAndGlyphs">5p12</text>
<text x="1095.00" y="1717.60" font-size="24.80" text-anchor="end" textLength="48.82" lengthAdjust="spacingAndGlyphs">13%</text>
<text x="1957.00" y="1718.20" font-size="25.23" textLength="73.38" lengthAdjust="spacingAndGlyphs">3p26.3</text>
<text x="1095.00" y="1750.50" font-size="24.80" text-anchor="end" textLength="47.01" lengthAdjust="spacingAndGlyphs">11%</text>
<text x="1957.00" y="1751.10" font-size="25.23" textLength="86.72" lengthAdjust="spacingAndGlyphs">3q26.31</text>
</svg>
</body>
</html>
